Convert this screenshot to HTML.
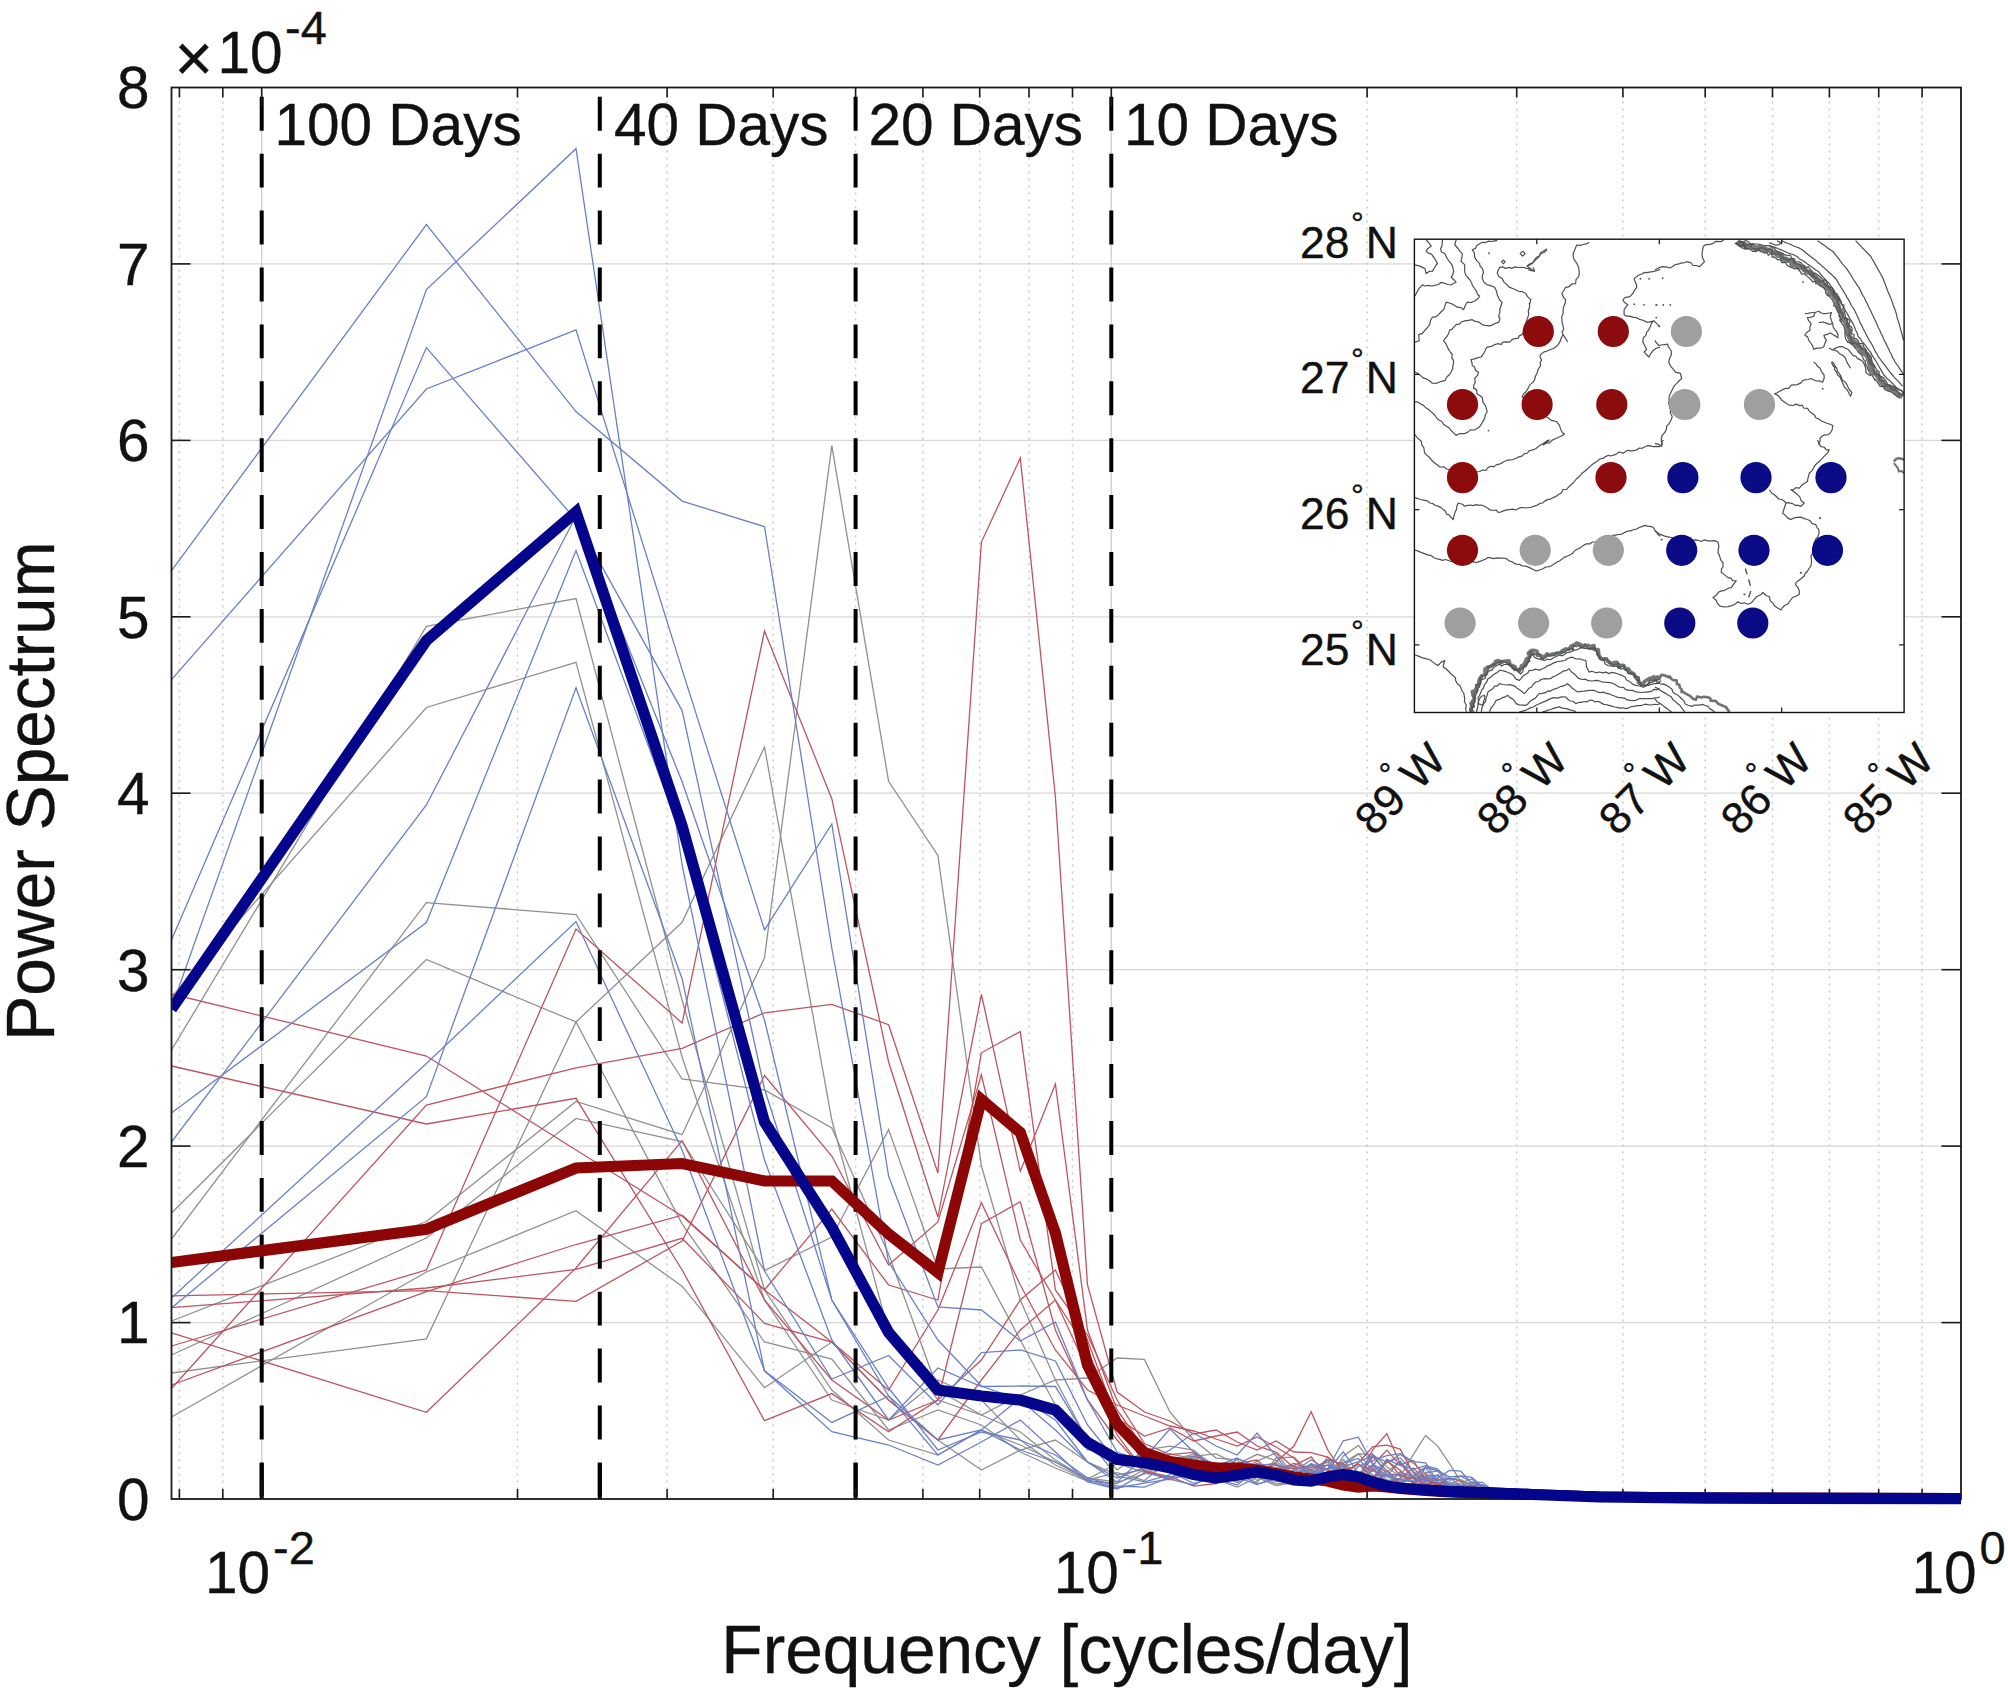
<!DOCTYPE html>
<html lang="en"><head><meta charset="utf-8"><title>Power Spectrum</title>
<style>html,body{margin:0;padding:0;background:#fff}body{width:2008px;height:1689px;overflow:hidden}svg{display:block}text{font-family:"Liberation Sans",Arial,Helvetica,sans-serif;fill:#111;stroke:#111;stroke-width:0.35px;stroke-linejoin:round}</style></head><body>
<svg width="2008" height="1689" viewBox="0 0 2008 1689">
<rect x="0" y="0" width="2008" height="1689" fill="#fff"/>
<g id="grid" fill="none">
<line x1="171.5" y1="1322.6" x2="1961.0" y2="1322.6" stroke="#d8d8d8" stroke-width="1.2"/>
<line x1="171.5" y1="1146.1" x2="1961.0" y2="1146.1" stroke="#d8d8d8" stroke-width="1.2"/>
<line x1="171.5" y1="969.7" x2="1961.0" y2="969.7" stroke="#d8d8d8" stroke-width="1.2"/>
<line x1="171.5" y1="793.2" x2="1961.0" y2="793.2" stroke="#d8d8d8" stroke-width="1.2"/>
<line x1="171.5" y1="616.8" x2="1961.0" y2="616.8" stroke="#d8d8d8" stroke-width="1.2"/>
<line x1="171.5" y1="440.4" x2="1961.0" y2="440.4" stroke="#d8d8d8" stroke-width="1.2"/>
<line x1="171.5" y1="263.9" x2="1961.0" y2="263.9" stroke="#d8d8d8" stroke-width="1.2"/>
<line x1="179.4" y1="87.5" x2="179.4" y2="1499.0" stroke="#c9c9c9" stroke-width="1.5" stroke-dasharray="2 5"/>
<line x1="222.8" y1="87.5" x2="222.8" y2="1499.0" stroke="#c9c9c9" stroke-width="1.5" stroke-dasharray="2 5"/>
<line x1="517.5" y1="87.5" x2="517.5" y2="1499.0" stroke="#c9c9c9" stroke-width="1.5" stroke-dasharray="2 5"/>
<line x1="667.1" y1="87.5" x2="667.1" y2="1499.0" stroke="#c9c9c9" stroke-width="1.5" stroke-dasharray="2 5"/>
<line x1="773.2" y1="87.5" x2="773.2" y2="1499.0" stroke="#c9c9c9" stroke-width="1.5" stroke-dasharray="2 5"/>
<line x1="855.6" y1="87.5" x2="855.6" y2="1499.0" stroke="#c9c9c9" stroke-width="1.5" stroke-dasharray="2 5"/>
<line x1="922.9" y1="87.5" x2="922.9" y2="1499.0" stroke="#c9c9c9" stroke-width="1.5" stroke-dasharray="2 5"/>
<line x1="979.7" y1="87.5" x2="979.7" y2="1499.0" stroke="#c9c9c9" stroke-width="1.5" stroke-dasharray="2 5"/>
<line x1="1029.0" y1="87.5" x2="1029.0" y2="1499.0" stroke="#c9c9c9" stroke-width="1.5" stroke-dasharray="2 5"/>
<line x1="1072.5" y1="87.5" x2="1072.5" y2="1499.0" stroke="#c9c9c9" stroke-width="1.5" stroke-dasharray="2 5"/>
<line x1="1367.1" y1="87.5" x2="1367.1" y2="1499.0" stroke="#c9c9c9" stroke-width="1.5" stroke-dasharray="2 5"/>
<line x1="1516.7" y1="87.5" x2="1516.7" y2="1499.0" stroke="#c9c9c9" stroke-width="1.5" stroke-dasharray="2 5"/>
<line x1="1622.9" y1="87.5" x2="1622.9" y2="1499.0" stroke="#c9c9c9" stroke-width="1.5" stroke-dasharray="2 5"/>
<line x1="1705.2" y1="87.5" x2="1705.2" y2="1499.0" stroke="#c9c9c9" stroke-width="1.5" stroke-dasharray="2 5"/>
<line x1="1772.5" y1="87.5" x2="1772.5" y2="1499.0" stroke="#c9c9c9" stroke-width="1.5" stroke-dasharray="2 5"/>
<line x1="1829.4" y1="87.5" x2="1829.4" y2="1499.0" stroke="#c9c9c9" stroke-width="1.5" stroke-dasharray="2 5"/>
<line x1="1878.7" y1="87.5" x2="1878.7" y2="1499.0" stroke="#c9c9c9" stroke-width="1.5" stroke-dasharray="2 5"/>
<line x1="1922.1" y1="87.5" x2="1922.1" y2="1499.0" stroke="#c9c9c9" stroke-width="1.5" stroke-dasharray="2 5"/>
<line x1="261.7" y1="87.5" x2="261.7" y2="1499.0" stroke="#d2d2d2" stroke-width="1.4"/>
<line x1="1111.3" y1="87.5" x2="1111.3" y2="1499.0" stroke="#d2d2d2" stroke-width="1.4"/>
</g>
<defs><clipPath id="ax"><rect x="171.0" y="81.5" width="1795.5" height="1423.5"/></clipPath><clipPath id="inset"><rect x="1414.4" y="239.2" width="489.7" height="473.3"/></clipPath></defs>
<g id="thin" clip-path="url(#ax)">
<polyline points="171.5,1050.0 426.4,626.3 576.0,598.6 682.1,1000.0 764.5,1290.0 831.8,1390.0 888.6,1440.0 937.9,1455.0 981.4,1430.0 1020.3,1445.0 1055.4,1462.0 1087.5,1478.0 1117.1,1482.2 1144.4,1474.0 1169.9,1459.2 1193.7,1456.1 1216.1,1453.9 1237.2,1464.0 1257.1,1454.3 1276.0,1460.6 1294.0,1477.3 1311.2,1472.1 1327.6,1482.4 1343.3,1456.0 1358.4,1445.4 1372.8,1464.0 1386.8,1471.9 1400.2,1461.3 1413.1,1476.1 1425.6,1483.2 1437.7,1486.6 1449.5,1486.1 1460.8,1482.8 1471.8,1479.1 1482.5,1488.5 1492.9,1488.2 1503.0,1492.9 1512.9,1496.7 1522.5,1498.1 1531.8,1498.3 1540.9,1498.3 1549.8,1498.3 1558.5,1498.3 1567.0,1498.3 1575.3,1498.3 1583.4,1498.3 1591.3,1498.3 1599.1,1498.3 1606.7,1498.3 1614.1,1498.3 1621.4,1498.3 1628.6,1498.3 1635.6,1498.3 1642.5,1498.3 1649.3,1498.3 1656.0,1498.3 1662.5,1498.3 1668.9,1498.3 1675.2,1498.3 1681.4,1498.3 1687.5,1498.3 1693.5,1498.3 1699.4,1498.3 1705.2,1498.3" fill="none" stroke="#909090" stroke-width="1.3" stroke-linejoin="miter" />
<polyline points="171.5,997.0 426.4,707.5 576.0,662.3 682.1,1057.0 764.5,1300.0 831.8,1400.0 888.6,1420.0 937.9,1380.0 981.4,1400.0 1020.3,1440.0 1055.4,1465.0 1087.5,1480.0 1117.1,1472.6 1144.4,1480.6 1169.9,1460.4 1193.7,1454.1 1216.1,1466.1 1237.2,1464.8 1257.1,1477.1 1276.0,1481.6 1294.0,1481.6 1311.2,1469.7 1327.6,1479.1 1343.3,1459.6 1358.4,1478.5 1372.8,1482.9 1386.8,1486.9 1400.2,1471.5 1413.1,1478.0 1425.6,1479.4 1437.7,1484.1 1449.5,1481.9 1460.8,1486.2 1471.8,1491.0 1482.5,1491.9 1492.9,1494.3 1503.0,1496.6 1512.9,1498.1 1522.5,1498.3 1531.8,1498.3 1540.9,1498.3 1549.8,1498.3 1558.5,1498.3 1567.0,1498.3 1575.3,1498.3 1583.4,1498.3 1591.3,1498.3 1599.1,1498.3 1606.7,1498.3 1614.1,1498.3 1621.4,1498.3 1628.6,1498.3 1635.6,1498.3 1642.5,1498.3 1649.3,1498.3 1656.0,1498.3 1662.5,1498.3 1668.9,1498.3 1675.2,1498.3 1681.4,1498.3 1687.5,1498.3 1693.5,1498.3 1699.4,1498.3 1705.2,1498.3" fill="none" stroke="#909090" stroke-width="1.3" stroke-linejoin="miter" />
<polyline points="171.5,1213.0 426.4,959.5 576.0,1022.0 682.1,1223.8 764.5,1342.0 831.8,1359.0 888.6,1430.0 937.9,1410.0 981.4,1425.0 1020.3,1452.0 1055.4,1468.0 1087.5,1481.0 1117.1,1483.5 1144.4,1469.9 1169.9,1478.7 1193.7,1464.7 1216.1,1463.0 1237.2,1469.8 1257.1,1464.6 1276.0,1464.4 1294.0,1479.7 1311.2,1471.4 1327.6,1465.2 1343.3,1466.2 1358.4,1453.9 1372.8,1454.4 1386.8,1466.8 1400.2,1476.9 1413.1,1454.9 1425.6,1435.5 1437.7,1446.1 1449.5,1463.7 1460.8,1481.4 1471.8,1484.9 1482.5,1490.7 1492.9,1492.2 1503.0,1495.6 1512.9,1497.7 1522.5,1498.3 1531.8,1498.3 1540.9,1498.3 1549.8,1498.3 1558.5,1498.3 1567.0,1498.3 1575.3,1498.3 1583.4,1498.3 1591.3,1498.3 1599.1,1498.3 1606.7,1498.3 1614.1,1498.3 1621.4,1498.3 1628.6,1498.3 1635.6,1498.3 1642.5,1498.3 1649.3,1498.3 1656.0,1498.3 1662.5,1498.3 1668.9,1498.3 1675.2,1498.3 1681.4,1498.3 1687.5,1498.3 1693.5,1498.3 1699.4,1498.3 1705.2,1498.3" fill="none" stroke="#909090" stroke-width="1.3" stroke-linejoin="miter" />
<polyline points="171.5,1239.0 426.4,902.6 576.0,914.5 682.1,1079.0 764.5,1090.0 831.8,1128.0 888.6,1254.0 937.9,1390.0 981.4,1415.0 1020.3,1432.0 1055.4,1460.0 1087.5,1479.0 1117.1,1463.6 1144.4,1472.4 1169.9,1468.7 1193.7,1466.8 1216.1,1479.5 1237.2,1487.1 1257.1,1477.5 1276.0,1485.5 1294.0,1482.7 1311.2,1467.6 1327.6,1462.5 1343.3,1479.9 1358.4,1487.2 1372.8,1487.1 1386.8,1471.1 1400.2,1485.2 1413.1,1487.6 1425.6,1491.0 1437.7,1492.5 1449.5,1488.4 1460.8,1492.0 1471.8,1492.0 1482.5,1490.7 1492.9,1492.2 1503.0,1495.3 1512.9,1497.6 1522.5,1498.3 1531.8,1498.3 1540.9,1498.3 1549.8,1498.3 1558.5,1498.3 1567.0,1498.3 1575.3,1498.3 1583.4,1498.3 1591.3,1498.3 1599.1,1498.3 1606.7,1498.3 1614.1,1498.3 1621.4,1498.3 1628.6,1498.3 1635.6,1498.3 1642.5,1498.3 1649.3,1498.3 1656.0,1498.3 1662.5,1498.3 1668.9,1498.3 1675.2,1498.3 1681.4,1498.3 1687.5,1498.3 1693.5,1498.3 1699.4,1498.3 1705.2,1498.3" fill="none" stroke="#909090" stroke-width="1.3" stroke-linejoin="miter" />
<polyline points="171.5,1321.0 426.4,1221.5 576.0,1101.5 682.1,1134.7 764.5,957.8 831.8,445.7 888.6,781.3 937.9,855.5 981.4,1166.0 1020.3,1300.0 1055.4,1380.0 1087.5,1440.0 1117.1,1470.0 1144.4,1450.2 1169.9,1446.2 1193.7,1450.2 1216.1,1469.2 1237.2,1473.2 1257.1,1461.1 1276.0,1452.9 1294.0,1475.8 1311.2,1480.8 1327.6,1456.9 1343.3,1474.9 1358.4,1464.0 1372.8,1471.3 1386.8,1462.9 1400.2,1454.5 1413.1,1463.1 1425.6,1473.4 1437.7,1480.2 1449.5,1478.4 1460.8,1479.9 1471.8,1485.5 1482.5,1488.7 1492.9,1491.2 1503.0,1494.9 1512.9,1497.4 1522.5,1498.3 1531.8,1498.3 1540.9,1498.3 1549.8,1498.3 1558.5,1498.3 1567.0,1498.3 1575.3,1498.3 1583.4,1498.3 1591.3,1498.3 1599.1,1498.3 1606.7,1498.3 1614.1,1498.3 1621.4,1498.3 1628.6,1498.3 1635.6,1498.3 1642.5,1498.3 1649.3,1498.3 1656.0,1498.3 1662.5,1498.3 1668.9,1498.3 1675.2,1498.3 1681.4,1498.3 1687.5,1498.3 1693.5,1498.3 1699.4,1498.3 1705.2,1498.3" fill="none" stroke="#909090" stroke-width="1.3" stroke-linejoin="miter" />
<polyline points="171.5,1355.0 426.4,1238.0 576.0,1118.4 682.1,1141.5 764.5,1270.6 831.8,1237.0 888.6,1129.6 937.9,1269.0 981.4,1267.0 1020.3,1340.0 1055.4,1405.0 1087.5,1450.0 1117.1,1453.7 1144.4,1470.8 1169.9,1464.4 1193.7,1456.8 1216.1,1472.9 1237.2,1465.9 1257.1,1475.8 1276.0,1483.8 1294.0,1482.2 1311.2,1469.9 1327.6,1481.9 1343.3,1472.6 1358.4,1477.9 1372.8,1484.5 1386.8,1480.3 1400.2,1481.0 1413.1,1480.6 1425.6,1472.5 1437.7,1471.1 1449.5,1484.1 1460.8,1479.6 1471.8,1484.9 1482.5,1485.7 1492.9,1489.4 1503.0,1493.9 1512.9,1497.1 1522.5,1498.3 1531.8,1498.3 1540.9,1498.3 1549.8,1498.3 1558.5,1498.3 1567.0,1498.3 1575.3,1498.3 1583.4,1498.3 1591.3,1498.3 1599.1,1498.3 1606.7,1498.3 1614.1,1498.3 1621.4,1498.3 1628.6,1498.3 1635.6,1498.3 1642.5,1498.3 1649.3,1498.3 1656.0,1498.3 1662.5,1498.3 1668.9,1498.3 1675.2,1498.3 1681.4,1498.3 1687.5,1498.3 1693.5,1498.3 1699.4,1498.3 1705.2,1498.3" fill="none" stroke="#909090" stroke-width="1.3" stroke-linejoin="miter" />
<polyline points="171.5,1373.0 426.4,1338.9 576.0,1022.0 682.1,922.3 764.5,747.0 831.8,1120.0 888.6,1332.0 937.9,1400.0 981.4,1415.0 1020.3,1395.0 1055.4,1380.0 1087.5,1378.0 1117.1,1358.0 1144.4,1359.4 1169.9,1412.0 1193.7,1440.0 1216.1,1458.1 1237.2,1459.9 1257.1,1480.7 1276.0,1467.4 1294.0,1465.6 1311.2,1482.3 1327.6,1471.6 1343.3,1467.6 1358.4,1480.7 1372.8,1466.6 1386.8,1476.6 1400.2,1479.5 1413.1,1477.6 1425.6,1477.8 1437.7,1478.6 1449.5,1486.7 1460.8,1488.5 1471.8,1493.0 1482.5,1494.5 1492.9,1494.9 1503.0,1497.1 1512.9,1498.3 1522.5,1498.3 1531.8,1498.3 1540.9,1498.3 1549.8,1498.3 1558.5,1498.3 1567.0,1498.3 1575.3,1498.3 1583.4,1498.3 1591.3,1498.3 1599.1,1498.3 1606.7,1498.3 1614.1,1498.3 1621.4,1498.3 1628.6,1498.3 1635.6,1498.3 1642.5,1498.3 1649.3,1498.3 1656.0,1498.3 1662.5,1498.3 1668.9,1498.3 1675.2,1498.3 1681.4,1498.3 1687.5,1498.3 1693.5,1498.3 1699.4,1498.3 1705.2,1498.3" fill="none" stroke="#909090" stroke-width="1.3" stroke-linejoin="miter" />
<polyline points="171.5,1417.0 426.4,1272.0 576.0,1210.7 682.1,1286.2 764.5,1387.7 831.8,1342.0 888.6,1400.0 937.9,1440.0 981.4,1470.0 1020.3,1450.0 1055.4,1440.0 1087.5,1462.0 1117.1,1474.9 1144.4,1469.5 1169.9,1453.8 1193.7,1458.9 1216.1,1466.6 1237.2,1474.8 1257.1,1482.6 1276.0,1457.8 1294.0,1457.1 1311.2,1472.9 1327.6,1468.3 1343.3,1462.7 1358.4,1453.6 1372.8,1470.7 1386.8,1476.3 1400.2,1482.7 1413.1,1475.9 1425.6,1466.8 1437.7,1470.5 1449.5,1484.2 1460.8,1487.1 1471.8,1492.4 1482.5,1494.4 1492.9,1494.1 1503.0,1496.4 1512.9,1498.0 1522.5,1498.3 1531.8,1498.3 1540.9,1498.3 1549.8,1498.3 1558.5,1498.3 1567.0,1498.3 1575.3,1498.3 1583.4,1498.3 1591.3,1498.3 1599.1,1498.3 1606.7,1498.3 1614.1,1498.3 1621.4,1498.3 1628.6,1498.3 1635.6,1498.3 1642.5,1498.3 1649.3,1498.3 1656.0,1498.3 1662.5,1498.3 1668.9,1498.3 1675.2,1498.3 1681.4,1498.3 1687.5,1498.3 1693.5,1498.3 1699.4,1498.3 1705.2,1498.3" fill="none" stroke="#909090" stroke-width="1.3" stroke-linejoin="miter" />
<polyline points="171.5,994.0 426.4,1056.0 576.0,1150.0 682.1,1216.0 764.5,1290.0 831.8,1342.0 888.6,1390.0 937.9,1310.0 981.4,1202.6 1020.3,1285.0 1055.4,1350.0 1087.5,1390.0 1117.1,1405.0 1144.4,1416.0 1169.9,1426.0 1193.7,1431.0 1216.1,1439.0 1237.2,1446.0 1257.1,1437.0 1276.0,1447.0 1294.0,1458.0 1311.2,1477.1 1327.6,1480.2 1343.3,1463.9 1358.4,1476.9 1372.8,1456.8 1386.8,1470.6 1400.2,1483.1 1413.1,1478.1 1425.6,1484.2 1437.7,1489.7 1449.5,1488.5 1460.8,1486.5 1471.8,1490.5 1482.5,1486.7 1492.9,1491.9 1503.0,1493.8 1512.9,1497.0 1522.5,1498.2 1531.8,1498.3 1540.9,1498.3 1549.8,1498.3 1558.5,1498.3 1567.0,1498.3 1575.3,1498.3 1583.4,1498.3 1591.3,1498.3 1599.1,1498.3 1606.7,1498.3 1614.1,1498.3 1621.4,1498.3 1628.6,1498.3 1635.6,1498.3 1642.5,1498.3 1649.3,1498.3 1656.0,1498.3 1662.5,1498.3 1668.9,1498.3 1675.2,1498.3 1681.4,1498.3 1687.5,1498.3 1693.5,1498.3 1699.4,1498.3 1705.2,1498.3" fill="none" stroke="#bd5560" stroke-width="1.3" stroke-linejoin="miter" />
<polyline points="171.5,1066.0 426.4,1124.0 576.0,1098.3 682.1,1270.0 764.5,1420.7 831.8,1393.6 888.6,1431.7 937.9,1400.0 981.4,1223.8 1020.3,1201.8 1055.4,1330.0 1087.5,1400.0 1117.1,1440.0 1144.4,1471.1 1169.9,1476.6 1193.7,1486.1 1216.1,1483.5 1237.2,1468.5 1257.1,1464.7 1276.0,1470.1 1294.0,1463.4 1311.2,1470.2 1327.6,1459.8 1343.3,1464.0 1358.4,1478.6 1372.8,1449.6 1386.8,1433.7 1400.2,1463.7 1413.1,1478.3 1425.6,1474.6 1437.7,1484.5 1449.5,1487.4 1460.8,1490.3 1471.8,1492.0 1482.5,1494.1 1492.9,1492.7 1503.0,1494.6 1512.9,1497.3 1522.5,1498.3 1531.8,1498.3 1540.9,1498.3 1549.8,1498.3 1558.5,1498.3 1567.0,1498.3 1575.3,1498.3 1583.4,1498.3 1591.3,1498.3 1599.1,1498.3 1606.7,1498.3 1614.1,1498.3 1621.4,1498.3 1628.6,1498.3 1635.6,1498.3 1642.5,1498.3 1649.3,1498.3 1656.0,1498.3 1662.5,1498.3 1668.9,1498.3 1675.2,1498.3 1681.4,1498.3 1687.5,1498.3 1693.5,1498.3 1699.4,1498.3 1705.2,1498.3" fill="none" stroke="#bd5560" stroke-width="1.3" stroke-linejoin="miter" />
<polyline points="171.5,1388.5 426.4,1105.0 576.0,1067.8 682.1,1048.4 764.5,1012.8 831.8,1004.3 888.6,1024.7 937.9,1173.0 981.4,542.1 1020.3,458.0 1055.4,797.0 1087.5,1285.0 1117.1,1392.0 1144.4,1412.0 1169.9,1421.0 1193.7,1434.0 1216.1,1430.0 1237.2,1442.0 1257.1,1450.0 1276.0,1441.0 1294.0,1452.0 1311.2,1452.7 1327.6,1457.2 1343.3,1466.8 1358.4,1476.7 1372.8,1465.2 1386.8,1450.1 1400.2,1465.1 1413.1,1460.2 1425.6,1479.9 1437.7,1478.9 1449.5,1485.8 1460.8,1485.3 1471.8,1485.4 1482.5,1485.2 1492.9,1490.1 1503.0,1492.7 1512.9,1496.6 1522.5,1498.1 1531.8,1498.3 1540.9,1498.3 1549.8,1498.3 1558.5,1498.3 1567.0,1498.3 1575.3,1498.3 1583.4,1498.3 1591.3,1498.3 1599.1,1498.3 1606.7,1498.3 1614.1,1498.3 1621.4,1498.3 1628.6,1498.3 1635.6,1498.3 1642.5,1498.3 1649.3,1498.3 1656.0,1498.3 1662.5,1498.3 1668.9,1498.3 1675.2,1498.3 1681.4,1498.3 1687.5,1498.3 1693.5,1498.3 1699.4,1498.3 1705.2,1498.3" fill="none" stroke="#bd5560" stroke-width="1.3" stroke-linejoin="miter" />
<polyline points="171.5,1332.8 426.4,1412.3 576.0,1268.0 682.1,1140.6 764.5,1300.0 831.8,1380.0 888.6,1420.0 937.9,1400.0 981.4,1360.0 1020.3,1300.0 1055.4,1270.0 1087.5,1340.0 1117.1,1420.0 1144.4,1464.3 1169.9,1462.1 1193.7,1468.0 1216.1,1480.0 1237.2,1469.8 1257.1,1471.2 1276.0,1465.1 1294.0,1468.9 1311.2,1467.2 1327.6,1465.1 1343.3,1475.8 1358.4,1485.4 1372.8,1468.4 1386.8,1482.2 1400.2,1478.3 1413.1,1468.1 1425.6,1479.7 1437.7,1486.4 1449.5,1488.1 1460.8,1491.7 1471.8,1488.5 1482.5,1492.5 1492.9,1495.7 1503.0,1496.2 1512.9,1498.0 1522.5,1498.3 1531.8,1498.3 1540.9,1498.3 1549.8,1498.3 1558.5,1498.3 1567.0,1498.3 1575.3,1498.3 1583.4,1498.3 1591.3,1498.3 1599.1,1498.3 1606.7,1498.3 1614.1,1498.3 1621.4,1498.3 1628.6,1498.3 1635.6,1498.3 1642.5,1498.3 1649.3,1498.3 1656.0,1498.3 1662.5,1498.3 1668.9,1498.3 1675.2,1498.3 1681.4,1498.3 1687.5,1498.3 1693.5,1498.3 1699.4,1498.3 1705.2,1498.3" fill="none" stroke="#bd5560" stroke-width="1.3" stroke-linejoin="miter" />
<polyline points="171.5,1346.0 426.4,1270.0 576.0,929.0 682.1,1023.0 764.5,631.1 831.8,798.7 888.6,1062.0 937.9,1217.0 981.4,994.4 1020.3,1171.3 1055.4,1084.0 1087.5,1330.0 1117.1,1410.0 1144.4,1448.5 1169.9,1472.6 1193.7,1465.7 1216.1,1477.9 1237.2,1471.4 1257.1,1474.0 1276.0,1462.1 1294.0,1446.1 1311.2,1411.7 1327.6,1449.6 1343.3,1473.4 1358.4,1462.7 1372.8,1446.5 1386.8,1445.2 1400.2,1449.1 1413.1,1472.7 1425.6,1481.5 1437.7,1483.9 1449.5,1487.0 1460.8,1490.1 1471.8,1490.7 1482.5,1491.5 1492.9,1493.6 1503.0,1494.0 1512.9,1497.1 1522.5,1498.3 1531.8,1498.3 1540.9,1498.3 1549.8,1498.3 1558.5,1498.3 1567.0,1498.3 1575.3,1498.3 1583.4,1498.3 1591.3,1498.3 1599.1,1498.3 1606.7,1498.3 1614.1,1498.3 1621.4,1498.3 1628.6,1498.3 1635.6,1498.3 1642.5,1498.3 1649.3,1498.3 1656.0,1498.3 1662.5,1498.3 1668.9,1498.3 1675.2,1498.3 1681.4,1498.3 1687.5,1498.3 1693.5,1498.3 1699.4,1498.3 1705.2,1498.3" fill="none" stroke="#bd5560" stroke-width="1.3" stroke-linejoin="miter" />
<polyline points="171.5,1295.8 426.4,1290.7 576.0,1301.3 682.1,1241.0 764.5,1075.5 831.8,1156.0 888.6,1265.0 937.9,1222.0 981.4,1074.9 1020.3,1240.0 1055.4,1300.0 1087.5,1350.0 1117.1,1418.0 1144.4,1436.0 1169.9,1428.0 1193.7,1441.0 1216.1,1436.0 1237.2,1432.0 1257.1,1446.0 1276.0,1452.0 1294.0,1467.8 1311.2,1465.3 1327.6,1470.0 1343.3,1472.9 1358.4,1464.0 1372.8,1477.8 1386.8,1461.1 1400.2,1470.3 1413.1,1484.0 1425.6,1477.1 1437.7,1485.6 1449.5,1477.7 1460.8,1481.5 1471.8,1489.7 1482.5,1487.4 1492.9,1492.7 1503.0,1494.0 1512.9,1497.1 1522.5,1498.3 1531.8,1498.3 1540.9,1498.3 1549.8,1498.3 1558.5,1498.3 1567.0,1498.3 1575.3,1498.3 1583.4,1498.3 1591.3,1498.3 1599.1,1498.3 1606.7,1498.3 1614.1,1498.3 1621.4,1498.3 1628.6,1498.3 1635.6,1498.3 1642.5,1498.3 1649.3,1498.3 1656.0,1498.3 1662.5,1498.3 1668.9,1498.3 1675.2,1498.3 1681.4,1498.3 1687.5,1498.3 1693.5,1498.3 1699.4,1498.3 1705.2,1498.3" fill="none" stroke="#bd5560" stroke-width="1.3" stroke-linejoin="miter" />
<polyline points="171.5,1307.7 426.4,1288.0 576.0,1269.4 682.1,1238.3 764.5,1323.4 831.8,1342.0 888.6,1400.0 937.9,1440.0 981.4,1380.0 1020.3,1330.0 1055.4,1300.0 1087.5,1370.0 1117.1,1435.0 1144.4,1471.3 1169.9,1479.7 1193.7,1472.5 1216.1,1466.9 1237.2,1463.4 1257.1,1460.0 1276.0,1477.9 1294.0,1483.1 1311.2,1479.0 1327.6,1474.4 1343.3,1483.2 1358.4,1473.7 1372.8,1481.2 1386.8,1474.5 1400.2,1474.4 1413.1,1482.4 1425.6,1484.3 1437.7,1482.1 1449.5,1484.6 1460.8,1489.6 1471.8,1486.5 1482.5,1491.6 1492.9,1494.5 1503.0,1496.9 1512.9,1498.2 1522.5,1498.3 1531.8,1498.3 1540.9,1498.3 1549.8,1498.3 1558.5,1498.3 1567.0,1498.3 1575.3,1498.3 1583.4,1498.3 1591.3,1498.3 1599.1,1498.3 1606.7,1498.3 1614.1,1498.3 1621.4,1498.3 1628.6,1498.3 1635.6,1498.3 1642.5,1498.3 1649.3,1498.3 1656.0,1498.3 1662.5,1498.3 1668.9,1498.3 1675.2,1498.3 1681.4,1498.3 1687.5,1498.3 1693.5,1498.3 1699.4,1498.3 1705.2,1498.3" fill="none" stroke="#bd5560" stroke-width="1.3" stroke-linejoin="miter" />
<polyline points="171.5,1385.0 426.4,1291.6 576.0,1244.5 682.1,1215.2 764.5,1290.0 831.8,1209.0 888.6,1285.0 937.9,1300.0 981.4,1052.8 1020.3,1031.6 1055.4,1290.0 1087.5,1335.0 1117.1,1400.0 1144.4,1443.5 1169.9,1454.6 1193.7,1452.4 1216.1,1471.9 1237.2,1480.9 1257.1,1468.7 1276.0,1474.5 1294.0,1465.5 1311.2,1456.8 1327.6,1477.5 1343.3,1477.3 1358.4,1482.4 1372.8,1480.4 1386.8,1459.4 1400.2,1475.9 1413.1,1478.4 1425.6,1485.0 1437.7,1488.9 1449.5,1491.6 1460.8,1493.9 1471.8,1487.1 1482.5,1487.9 1492.9,1492.5 1503.0,1494.1 1512.9,1497.1 1522.5,1498.3 1531.8,1498.3 1540.9,1498.3 1549.8,1498.3 1558.5,1498.3 1567.0,1498.3 1575.3,1498.3 1583.4,1498.3 1591.3,1498.3 1599.1,1498.3 1606.7,1498.3 1614.1,1498.3 1621.4,1498.3 1628.6,1498.3 1635.6,1498.3 1642.5,1498.3 1649.3,1498.3 1656.0,1498.3 1662.5,1498.3 1668.9,1498.3 1675.2,1498.3 1681.4,1498.3 1687.5,1498.3 1693.5,1498.3 1699.4,1498.3 1705.2,1498.3" fill="none" stroke="#bd5560" stroke-width="1.3" stroke-linejoin="miter" />
<polyline points="171.5,570.7 426.4,224.5 576.0,411.6 682.1,501.1 764.5,526.7 831.8,948.0 888.6,1262.0 937.9,1340.0 981.4,1386.0 1020.3,1400.0 1055.4,1430.0 1087.5,1462.0 1117.1,1478.0 1144.4,1467.3 1169.9,1472.0 1193.7,1483.3 1216.1,1478.0 1237.2,1458.7 1257.1,1466.1 1276.0,1463.4 1294.0,1476.2 1311.2,1472.6 1327.6,1473.3 1343.3,1480.6 1358.4,1480.2 1372.8,1484.4 1386.8,1459.3 1400.2,1465.4 1413.1,1469.3 1425.6,1465.6 1437.7,1469.0 1449.5,1480.3 1460.8,1476.1 1471.8,1482.2 1482.5,1482.3 1492.9,1490.4 1503.0,1494.3 1512.9,1497.2 1522.5,1498.3 1531.8,1498.3 1540.9,1498.3 1549.8,1498.3 1558.5,1498.3 1567.0,1498.3 1575.3,1498.3 1583.4,1498.3 1591.3,1498.3 1599.1,1498.3 1606.7,1498.3 1614.1,1498.3 1621.4,1498.3 1628.6,1498.3 1635.6,1498.3 1642.5,1498.3 1649.3,1498.3 1656.0,1498.3 1662.5,1498.3 1668.9,1498.3 1675.2,1498.3 1681.4,1498.3 1687.5,1498.3 1693.5,1498.3 1699.4,1498.3 1705.2,1498.3" fill="none" stroke="#6a80c6" stroke-width="1.3" stroke-linejoin="miter" />
<polyline points="171.5,1008.0 426.4,289.6 576.0,148.7 682.1,865.0 764.5,1271.0 831.8,1379.0 888.6,1355.5 937.9,1405.0 981.4,1352.6 1020.3,1350.0 1055.4,1361.0 1087.5,1425.0 1117.1,1462.0 1144.4,1458.0 1169.9,1429.0 1193.7,1452.0 1216.1,1466.0 1237.2,1458.0 1257.1,1469.0 1276.0,1472.0 1294.0,1474.9 1311.2,1463.7 1327.6,1469.0 1343.3,1440.8 1358.4,1437.2 1372.8,1463.7 1386.8,1475.7 1400.2,1461.2 1413.1,1476.8 1425.6,1467.6 1437.7,1483.2 1449.5,1484.7 1460.8,1485.2 1471.8,1482.4 1482.5,1485.2 1492.9,1491.7 1503.0,1494.3 1512.9,1497.2 1522.5,1498.3 1531.8,1498.3 1540.9,1498.3 1549.8,1498.3 1558.5,1498.3 1567.0,1498.3 1575.3,1498.3 1583.4,1498.3 1591.3,1498.3 1599.1,1498.3 1606.7,1498.3 1614.1,1498.3 1621.4,1498.3 1628.6,1498.3 1635.6,1498.3 1642.5,1498.3 1649.3,1498.3 1656.0,1498.3 1662.5,1498.3 1668.9,1498.3 1675.2,1498.3 1681.4,1498.3 1687.5,1498.3 1693.5,1498.3 1699.4,1498.3 1705.2,1498.3" fill="none" stroke="#6a80c6" stroke-width="1.3" stroke-linejoin="miter" />
<polyline points="171.5,940.0 426.4,347.6 576.0,520.0 682.1,710.6 764.5,1089.0 831.8,1300.0 888.6,1396.0 937.9,1440.0 981.4,1430.0 1020.3,1398.0 1055.4,1420.0 1087.5,1462.0 1117.1,1482.0 1144.4,1456.7 1169.9,1462.3 1193.7,1464.0 1216.1,1467.3 1237.2,1477.2 1257.1,1484.6 1276.0,1477.6 1294.0,1471.5 1311.2,1459.7 1327.6,1469.9 1343.3,1451.9 1358.4,1473.3 1372.8,1464.6 1386.8,1480.0 1400.2,1482.1 1413.1,1485.9 1425.6,1467.6 1437.7,1470.9 1449.5,1476.8 1460.8,1476.0 1471.8,1477.4 1482.5,1486.6 1492.9,1488.5 1503.0,1493.8 1512.9,1497.0 1522.5,1498.3 1531.8,1498.3 1540.9,1498.3 1549.8,1498.3 1558.5,1498.3 1567.0,1498.3 1575.3,1498.3 1583.4,1498.3 1591.3,1498.3 1599.1,1498.3 1606.7,1498.3 1614.1,1498.3 1621.4,1498.3 1628.6,1498.3 1635.6,1498.3 1642.5,1498.3 1649.3,1498.3 1656.0,1498.3 1662.5,1498.3 1668.9,1498.3 1675.2,1498.3 1681.4,1498.3 1687.5,1498.3 1693.5,1498.3 1699.4,1498.3 1705.2,1498.3" fill="none" stroke="#6a80c6" stroke-width="1.3" stroke-linejoin="miter" />
<polyline points="171.5,679.6 426.4,389.0 576.0,329.9 682.1,669.6 764.5,929.9 831.8,824.0 888.6,1176.0 937.9,1307.0 981.4,1310.0 1020.3,1341.0 1055.4,1322.0 1087.5,1400.0 1117.1,1452.0 1144.4,1462.0 1169.9,1450.0 1193.7,1433.0 1216.1,1446.0 1237.2,1455.0 1257.1,1433.0 1276.0,1456.0 1294.0,1479.0 1311.2,1463.9 1327.6,1478.8 1343.3,1463.1 1358.4,1458.5 1372.8,1475.4 1386.8,1475.4 1400.2,1479.5 1413.1,1481.8 1425.6,1476.3 1437.7,1475.5 1449.5,1485.6 1460.8,1486.9 1471.8,1487.4 1482.5,1490.0 1492.9,1494.6 1503.0,1496.3 1512.9,1498.0 1522.5,1498.3 1531.8,1498.3 1540.9,1498.3 1549.8,1498.3 1558.5,1498.3 1567.0,1498.3 1575.3,1498.3 1583.4,1498.3 1591.3,1498.3 1599.1,1498.3 1606.7,1498.3 1614.1,1498.3 1621.4,1498.3 1628.6,1498.3 1635.6,1498.3 1642.5,1498.3 1649.3,1498.3 1656.0,1498.3 1662.5,1498.3 1668.9,1498.3 1675.2,1498.3 1681.4,1498.3 1687.5,1498.3 1693.5,1498.3 1699.4,1498.3 1705.2,1498.3" fill="none" stroke="#6a80c6" stroke-width="1.3" stroke-linejoin="miter" />
<polyline points="171.5,1113.0 426.4,922.6 576.0,550.5 682.1,837.0 764.5,1160.0 831.8,1340.0 888.6,1420.0 937.9,1368.0 981.4,1386.5 1020.3,1386.0 1055.4,1386.5 1087.5,1440.0 1117.1,1476.0 1144.4,1481.8 1169.9,1474.8 1193.7,1456.3 1216.1,1464.3 1237.2,1474.4 1257.1,1463.3 1276.0,1471.8 1294.0,1465.4 1311.2,1474.9 1327.6,1460.2 1343.3,1477.8 1358.4,1477.8 1372.8,1454.4 1386.8,1474.8 1400.2,1474.9 1413.1,1481.7 1425.6,1480.7 1437.7,1477.7 1449.5,1470.4 1460.8,1471.2 1471.8,1483.4 1482.5,1484.9 1492.9,1490.2 1503.0,1495.0 1512.9,1497.5 1522.5,1498.3 1531.8,1498.3 1540.9,1498.3 1549.8,1498.3 1558.5,1498.3 1567.0,1498.3 1575.3,1498.3 1583.4,1498.3 1591.3,1498.3 1599.1,1498.3 1606.7,1498.3 1614.1,1498.3 1621.4,1498.3 1628.6,1498.3 1635.6,1498.3 1642.5,1498.3 1649.3,1498.3 1656.0,1498.3 1662.5,1498.3 1668.9,1498.3 1675.2,1498.3 1681.4,1498.3 1687.5,1498.3 1693.5,1498.3 1699.4,1498.3 1705.2,1498.3" fill="none" stroke="#6a80c6" stroke-width="1.3" stroke-linejoin="miter" />
<polyline points="171.5,1142.0 426.4,805.0 576.0,516.0 682.1,781.8 764.5,1020.0 831.8,1300.0 888.6,1388.0 937.9,1450.0 981.4,1432.0 1020.3,1440.0 1055.4,1455.0 1087.5,1478.0 1117.1,1486.0 1144.4,1487.2 1169.9,1477.4 1193.7,1471.8 1216.1,1479.4 1237.2,1484.9 1257.1,1470.2 1276.0,1469.5 1294.0,1480.9 1311.2,1475.0 1327.6,1469.0 1343.3,1466.5 1358.4,1461.7 1372.8,1455.8 1386.8,1462.0 1400.2,1457.9 1413.1,1471.1 1425.6,1482.1 1437.7,1474.6 1449.5,1484.9 1460.8,1490.9 1471.8,1493.9 1482.5,1492.6 1492.9,1491.5 1503.0,1495.2 1512.9,1497.5 1522.5,1498.3 1531.8,1498.3 1540.9,1498.3 1549.8,1498.3 1558.5,1498.3 1567.0,1498.3 1575.3,1498.3 1583.4,1498.3 1591.3,1498.3 1599.1,1498.3 1606.7,1498.3 1614.1,1498.3 1621.4,1498.3 1628.6,1498.3 1635.6,1498.3 1642.5,1498.3 1649.3,1498.3 1656.0,1498.3 1662.5,1498.3 1668.9,1498.3 1675.2,1498.3 1681.4,1498.3 1687.5,1498.3 1693.5,1498.3 1699.4,1498.3 1705.2,1498.3" fill="none" stroke="#6a80c6" stroke-width="1.3" stroke-linejoin="miter" />
<polyline points="171.5,1298.0 426.4,1063.5 576.0,921.6 682.1,1150.0 764.5,1370.8 831.8,1422.4 888.6,1396.2 937.9,1455.0 981.4,1430.0 1020.3,1450.0 1055.4,1462.0 1087.5,1480.0 1117.1,1488.0 1144.4,1483.2 1169.9,1479.1 1193.7,1485.0 1216.1,1473.8 1237.2,1482.6 1257.1,1473.9 1276.0,1479.0 1294.0,1473.8 1311.2,1469.1 1327.6,1483.9 1343.3,1468.6 1358.4,1483.4 1372.8,1469.5 1386.8,1483.5 1400.2,1472.6 1413.1,1476.6 1425.6,1479.1 1437.7,1480.5 1449.5,1478.0 1460.8,1485.9 1471.8,1485.2 1482.5,1492.7 1492.9,1495.1 1503.0,1496.1 1512.9,1497.9 1522.5,1498.3 1531.8,1498.3 1540.9,1498.3 1549.8,1498.3 1558.5,1498.3 1567.0,1498.3 1575.3,1498.3 1583.4,1498.3 1591.3,1498.3 1599.1,1498.3 1606.7,1498.3 1614.1,1498.3 1621.4,1498.3 1628.6,1498.3 1635.6,1498.3 1642.5,1498.3 1649.3,1498.3 1656.0,1498.3 1662.5,1498.3 1668.9,1498.3 1675.2,1498.3 1681.4,1498.3 1687.5,1498.3 1693.5,1498.3 1699.4,1498.3 1705.2,1498.3" fill="none" stroke="#6a80c6" stroke-width="1.3" stroke-linejoin="miter" />
<polyline points="171.5,1308.0 426.4,1096.7 576.0,687.9 682.1,978.7 764.5,1370.8 831.8,1431.7 888.6,1445.0 937.9,1465.0 981.4,1442.0 1020.3,1420.0 1055.4,1452.0 1087.5,1482.0 1117.1,1489.0 1144.4,1473.0 1169.9,1477.5 1193.7,1466.7 1216.1,1468.4 1237.2,1472.0 1257.1,1484.1 1276.0,1479.1 1294.0,1469.6 1311.2,1478.8 1327.6,1478.4 1343.3,1482.2 1358.4,1466.4 1372.8,1460.7 1386.8,1455.6 1400.2,1453.7 1413.1,1461.6 1425.6,1462.8 1437.7,1482.0 1449.5,1485.6 1460.8,1489.3 1471.8,1491.6 1482.5,1492.3 1492.9,1493.2 1503.0,1494.1 1512.9,1497.1 1522.5,1498.3 1531.8,1498.3 1540.9,1498.3 1549.8,1498.3 1558.5,1498.3 1567.0,1498.3 1575.3,1498.3 1583.4,1498.3 1591.3,1498.3 1599.1,1498.3 1606.7,1498.3 1614.1,1498.3 1621.4,1498.3 1628.6,1498.3 1635.6,1498.3 1642.5,1498.3 1649.3,1498.3 1656.0,1498.3 1662.5,1498.3 1668.9,1498.3 1675.2,1498.3 1681.4,1498.3 1687.5,1498.3 1693.5,1498.3 1699.4,1498.3 1705.2,1498.3" fill="none" stroke="#6a80c6" stroke-width="1.3" stroke-linejoin="miter" />
</g>
<g id="dashes">
<line x1="261.7" y1="96.8" x2="261.7" y2="1519.0" stroke="#000" stroke-width="4" stroke-dasharray="33.9 23"/>
<line x1="261.7" y1="1463" x2="261.7" y2="1499.0" stroke="#000" stroke-width="4"/>
<line x1="599.8" y1="96.8" x2="599.8" y2="1519.0" stroke="#000" stroke-width="4" stroke-dasharray="33.9 23"/>
<line x1="599.8" y1="1463" x2="599.8" y2="1499.0" stroke="#000" stroke-width="4"/>
<line x1="855.6" y1="96.8" x2="855.6" y2="1519.0" stroke="#000" stroke-width="4" stroke-dasharray="33.9 23"/>
<line x1="855.6" y1="1463" x2="855.6" y2="1499.0" stroke="#000" stroke-width="4"/>
<line x1="1111.3" y1="96.8" x2="1111.3" y2="1519.0" stroke="#000" stroke-width="4" stroke-dasharray="33.9 23"/>
<line x1="1111.3" y1="1463" x2="1111.3" y2="1499.0" stroke="#000" stroke-width="4"/>
</g>
<g id="thick" clip-path="url(#ax)">
<polyline points="171.5,1262.5 426.4,1229.3 576.0,1168.0 682.1,1163.5 764.5,1181.0 831.8,1181.0 888.6,1234.0 937.9,1272.5 981.4,1099.5 1020.3,1132.5 1055.4,1233.0 1087.5,1365.0 1117.1,1424.0 1144.4,1452.5 1169.9,1461.5 1193.7,1465.0 1216.1,1468.0 1237.2,1468.0 1257.1,1470.0 1276.0,1473.5 1294.0,1477.0 1311.2,1479.0 1327.6,1481.0 1343.3,1485.0 1358.4,1487.0 1372.8,1486.0 1386.8,1487.0 1400.2,1488.5 1425.6,1490.5 1449.5,1492.0 1482.5,1493.0 1531.8,1495.0 1599.1,1497.0 1705.2,1498.0 1961.0,1498.5" fill="none" stroke="#8c0606" stroke-width="11.2" stroke-linejoin="miter" />
<polyline points="171.5,1009.0 426.4,640.5 576.0,512.0 682.1,826.0 764.5,1122.0 831.8,1227.0 888.6,1332.5 937.9,1390.0 981.4,1396.0 1020.3,1400.0 1055.4,1410.0 1087.5,1442.4 1117.1,1459.3 1144.4,1462.7 1169.9,1467.8 1193.7,1474.6 1216.1,1478.0 1237.2,1475.0 1257.1,1472.0 1276.0,1475.0 1294.0,1480.0 1311.2,1481.0 1327.6,1477.0 1343.3,1474.5 1358.4,1477.0 1372.8,1482.0 1386.8,1486.0 1400.2,1488.0 1425.6,1490.0 1449.5,1491.5 1482.5,1492.5 1531.8,1494.5 1599.1,1497.0 1705.2,1498.2 1961.0,1498.6" fill="none" stroke="#05058c" stroke-width="11.2" stroke-linejoin="miter" />
</g>
<rect x="150" y="1499.8" width="1850" height="30" fill="#fff"/>
<g id="axes" stroke="#1a1a1a" fill="none">
<rect x="171.5" y="87.5" width="1789.5" height="1411.5" stroke-width="1.8"/>
<line x1="171.5" y1="1322.6" x2="190.5" y2="1322.6" stroke-width="1.6"/>
<line x1="1961.0" y1="1322.6" x2="1941.5" y2="1322.6" stroke-width="1.6"/>
<line x1="171.5" y1="1146.1" x2="190.5" y2="1146.1" stroke-width="1.6"/>
<line x1="1961.0" y1="1146.1" x2="1941.5" y2="1146.1" stroke-width="1.6"/>
<line x1="171.5" y1="969.7" x2="190.5" y2="969.7" stroke-width="1.6"/>
<line x1="1961.0" y1="969.7" x2="1941.5" y2="969.7" stroke-width="1.6"/>
<line x1="171.5" y1="793.2" x2="190.5" y2="793.2" stroke-width="1.6"/>
<line x1="1961.0" y1="793.2" x2="1941.5" y2="793.2" stroke-width="1.6"/>
<line x1="171.5" y1="616.8" x2="190.5" y2="616.8" stroke-width="1.6"/>
<line x1="1961.0" y1="616.8" x2="1941.5" y2="616.8" stroke-width="1.6"/>
<line x1="171.5" y1="440.4" x2="190.5" y2="440.4" stroke-width="1.6"/>
<line x1="1961.0" y1="440.4" x2="1941.5" y2="440.4" stroke-width="1.6"/>
<line x1="171.5" y1="263.9" x2="190.5" y2="263.9" stroke-width="1.6"/>
<line x1="1961.0" y1="263.9" x2="1941.5" y2="263.9" stroke-width="1.6"/>
<line x1="179.4" y1="87.5" x2="179.4" y2="97.5" stroke-width="1.6"/>
<line x1="179.4" y1="1499.0" x2="179.4" y2="1489.0" stroke-width="1.6"/>
<line x1="222.8" y1="87.5" x2="222.8" y2="97.5" stroke-width="1.6"/>
<line x1="222.8" y1="1499.0" x2="222.8" y2="1489.0" stroke-width="1.6"/>
<line x1="517.5" y1="87.5" x2="517.5" y2="97.5" stroke-width="1.6"/>
<line x1="517.5" y1="1499.0" x2="517.5" y2="1489.0" stroke-width="1.6"/>
<line x1="667.1" y1="87.5" x2="667.1" y2="97.5" stroke-width="1.6"/>
<line x1="667.1" y1="1499.0" x2="667.1" y2="1489.0" stroke-width="1.6"/>
<line x1="773.2" y1="87.5" x2="773.2" y2="97.5" stroke-width="1.6"/>
<line x1="773.2" y1="1499.0" x2="773.2" y2="1489.0" stroke-width="1.6"/>
<line x1="855.6" y1="87.5" x2="855.6" y2="97.5" stroke-width="1.6"/>
<line x1="855.6" y1="1499.0" x2="855.6" y2="1489.0" stroke-width="1.6"/>
<line x1="922.9" y1="87.5" x2="922.9" y2="97.5" stroke-width="1.6"/>
<line x1="922.9" y1="1499.0" x2="922.9" y2="1489.0" stroke-width="1.6"/>
<line x1="979.7" y1="87.5" x2="979.7" y2="97.5" stroke-width="1.6"/>
<line x1="979.7" y1="1499.0" x2="979.7" y2="1489.0" stroke-width="1.6"/>
<line x1="1029.0" y1="87.5" x2="1029.0" y2="97.5" stroke-width="1.6"/>
<line x1="1029.0" y1="1499.0" x2="1029.0" y2="1489.0" stroke-width="1.6"/>
<line x1="1072.5" y1="87.5" x2="1072.5" y2="97.5" stroke-width="1.6"/>
<line x1="1072.5" y1="1499.0" x2="1072.5" y2="1489.0" stroke-width="1.6"/>
<line x1="1367.1" y1="87.5" x2="1367.1" y2="97.5" stroke-width="1.6"/>
<line x1="1367.1" y1="1499.0" x2="1367.1" y2="1489.0" stroke-width="1.6"/>
<line x1="1516.7" y1="87.5" x2="1516.7" y2="97.5" stroke-width="1.6"/>
<line x1="1516.7" y1="1499.0" x2="1516.7" y2="1489.0" stroke-width="1.6"/>
<line x1="1622.9" y1="87.5" x2="1622.9" y2="97.5" stroke-width="1.6"/>
<line x1="1622.9" y1="1499.0" x2="1622.9" y2="1489.0" stroke-width="1.6"/>
<line x1="1705.2" y1="87.5" x2="1705.2" y2="97.5" stroke-width="1.6"/>
<line x1="1705.2" y1="1499.0" x2="1705.2" y2="1489.0" stroke-width="1.6"/>
<line x1="1772.5" y1="87.5" x2="1772.5" y2="97.5" stroke-width="1.6"/>
<line x1="1772.5" y1="1499.0" x2="1772.5" y2="1489.0" stroke-width="1.6"/>
<line x1="1829.4" y1="87.5" x2="1829.4" y2="97.5" stroke-width="1.6"/>
<line x1="1829.4" y1="1499.0" x2="1829.4" y2="1489.0" stroke-width="1.6"/>
<line x1="1878.7" y1="87.5" x2="1878.7" y2="97.5" stroke-width="1.6"/>
<line x1="1878.7" y1="1499.0" x2="1878.7" y2="1489.0" stroke-width="1.6"/>
<line x1="1922.1" y1="87.5" x2="1922.1" y2="97.5" stroke-width="1.6"/>
<line x1="1922.1" y1="1499.0" x2="1922.1" y2="1489.0" stroke-width="1.6"/>
<line x1="261.7" y1="87.5" x2="261.7" y2="106.5" stroke-width="1.6"/>
<line x1="261.7" y1="1499.0" x2="261.7" y2="1480.0" stroke-width="1.6"/>
<line x1="1111.3" y1="87.5" x2="1111.3" y2="106.5" stroke-width="1.6"/>
<line x1="1111.3" y1="1499.0" x2="1111.3" y2="1480.0" stroke-width="1.6"/>
</g>
<g clip-path="url(#ax)">
<polyline points="1425.6,1490.0 1449.5,1491.5 1482.5,1492.5 1531.8,1494.5 1599.1,1497.0 1705.2,1498.2 1961.0,1498.6" fill="none" stroke="#05058c" stroke-width="11.2" stroke-linejoin="miter" />
</g>
<g id="labels">
<text x="149.5" y="1519.8" font-size="58.5" text-anchor="end">0</text>
<text x="149.5" y="1343.4" font-size="58.5" text-anchor="end">1</text>
<text x="149.5" y="1166.9" font-size="58.5" text-anchor="end">2</text>
<text x="149.5" y="990.5" font-size="58.5" text-anchor="end">3</text>
<text x="149.5" y="814.0" font-size="58.5" text-anchor="end">4</text>
<text x="149.5" y="637.6" font-size="58.5" text-anchor="end">5</text>
<text x="149.5" y="461.2" font-size="58.5" text-anchor="end">6</text>
<text x="149.5" y="284.7" font-size="58.5" text-anchor="end">7</text>
<text x="149.5" y="108.3" font-size="58.5" text-anchor="end">8</text>
<text x="174.5" y="80.5" font-size="66" stroke="none" fill="#1a1a1a">×</text>
<text x="217.5" y="73" font-size="58.5">10</text>
<text x="285" y="44" font-size="47">-4</text>
<text x="205.0" y="1592.6" font-size="58.5">10</text>
<text x="273.0" y="1564" font-size="47">-2</text>
<text x="1053.8" y="1592.6" font-size="58.5">10</text>
<text x="1121.6" y="1564" font-size="47">-1</text>
<text x="1911.5" y="1592.6" font-size="58.5">10</text>
<text x="1979.5" y="1564" font-size="47">0</text>
<text x="1067" y="1672.5" font-size="67.6" text-anchor="middle">Frequency [cycles/day]</text>
<text transform="translate(53.8,791) rotate(-90)" font-size="67.6" text-anchor="middle">Power Spectrum</text>
<text x="274.5" y="145" font-size="58.5" fill="#000">100 Days</text>
<text x="614.0" y="145" font-size="58.5" fill="#000">40 Days</text>
<text x="868.5" y="145" font-size="58.5" fill="#000">20 Days</text>
<text x="1124.0" y="145" font-size="58.5" fill="#000">10 Days</text>
</g>
<g id="map">
<rect x="1414.4" y="239.2" width="489.7" height="473.3" fill="#fff"/>
<g clip-path="url(#inset)" fill="none" stroke="#4c5050" stroke-width="1.2" stroke-linejoin="round">
<polyline points="1426.2,240.0 1429.3,243.4 1431.2,246.2 1427.8,248.4 1426.2,251.2 1428.3,253.1 1431.5,254.1 1433.1,256.5 1434.9,258.7 1437.4,263.6 1435.7,265.5 1434.4,268.0 1432.4,271.1 1429.2,271.4 1426.2,273.6 1424.9,268.6 1420.0,266.1 1415.0,264.9" stroke-width="1.2" stroke="#4c5050"/>
<polyline points="1442.4,240.0 1442.4,242.0 1441.7,246.6 1440.5,248.7 1441.5,252.0 1444.8,253.5 1446.1,256.2 1447.5,259.0 1449.2,261.3 1451.1,263.6 1452.6,266.4 1453.6,271.1 1452.8,274.7 1451.1,277.3 1454.5,280.3 1456.1,282.3 1451.1,284.8 1448.1,284.5 1443.8,283.1 1441.1,282.3 1438.6,284.5 1433.5,285.6 1431.2,286.0 1428.5,285.4 1424.6,286.0 1422.5,284.8 1419.4,288.1 1417.5,291.0 1415.0,296.0" stroke-width="1.2" stroke="#4c5050"/>
<polyline points="1456.1,240.0 1454.8,245.0 1456.7,247.0 1458.0,248.5 1460.4,251.8 1462.3,253.7 1461.9,257.8 1461.0,261.1 1464.8,264.9 1464.6,267.7 1464.8,272.4 1465.9,275.4 1467.9,277.5 1469.8,279.8 1471.8,283.3 1472.4,285.6 1474.7,288.5 1476.7,291.9 1477.6,294.4 1479.7,296.0 1478.0,298.5 1474.7,301.0 1471.2,302.5 1467.3,302.2 1465.3,305.5 1463.5,309.7 1461.0,307.6 1457.3,307.2 1454.7,305.6 1451.1,303.5 1446.1,302.2 1444.6,306.9 1443.6,309.7 1441.4,311.5 1438.6,314.7 1435.3,316.9 1432.4,317.2 1430.3,320.7 1430.0,323.6 1428.7,325.9 1427.5,327.5 1424.4,330.8 1422.5,333.4 1418.7,334.6 1419.0,338.4 1419.3,340.8 1415.0,342.1" stroke-width="1.2" stroke="#4c5050"/>
<polyline points="1497.2,240.6 1494.2,240.8 1491.8,241.5 1488.3,241.2 1485.2,242.6 1482.5,242.3 1479.7,243.7 1476.8,245.5 1475.6,248.3 1472.3,249.9 1474.3,252.7 1474.7,257.4 1476.7,260.6 1479.7,263.6 1480.0,266.0 1482.3,268.4 1483.5,272.4 1482.6,274.5 1482.2,278.6 1484.2,282.5 1487.2,284.8 1490.7,285.6 1494.7,287.3 1496.8,291.8 1497.2,294.8 1498.3,297.1 1499.8,300.3 1502.1,302.2 1500.8,306.5 1499.6,309.7 1500.0,312.0 1498.6,316.4 1500.0,318.4 1499.0,322.2 1496.7,322.8 1492.5,324.9 1489.7,325.9 1485.2,325.3 1482.2,324.6 1478.8,322.1 1474.6,321.2 1472.3,319.7 1468.5,320.3 1464.8,320.9 1461.0,322.0 1460.0,323.8 1456.1,324.6 1453.8,327.2 1452.1,329.1 1449.7,330.1 1448.6,333.4 1447.4,335.8 1444.3,339.4 1443.6,340.8 1445.8,343.4 1447.4,347.1 1449.0,350.2 1450.6,352.5 1452.3,354.5 1451.7,358.1 1453.3,360.0 1453.6,363.2 1452.6,366.9 1452.8,368.6 1451.1,372.0 1449.7,374.5 1447.0,376.8 1444.9,380.7 1441.5,381.3 1437.7,382.8 1436.1,383.4 1432.4,383.2 1429.5,380.8 1426.3,378.9 1423.7,378.2 1420.6,375.6 1417.5,373.2 1415.0,372.0" stroke-width="1.2" stroke="#4c5050"/>
<polyline points="1547.0,249.9 1543.7,252.8 1540.7,253.7 1538.9,256.2 1536.6,257.2 1534.5,259.9 1532.7,262.7 1528.9,264.4 1527.0,266.1 1529.9,268.2 1532.7,270.2 1534.5,271.1 1529.5,268.6 1526.4,268.4 1524.3,267.5 1520.0,267.4 1518.8,267.5 1514.9,266.9 1511.7,268.5 1509.6,267.4 1505.3,268.4 1503.1,266.8 1499.6,267.4 1497.2,272.4 1498.6,276.3 1502.1,278.6 1504.4,282.6 1507.1,284.8 1509.1,287.1 1513.3,288.8 1515.8,289.8 1519.1,291.5 1522.3,291.7 1525.8,293.5 1527.5,296.6 1530.8,299.7 1529.5,304.7 1529.7,306.5 1528.2,311.2 1528.7,313.2 1528.3,315.9 1527.6,317.9 1526.4,321.0 1526.1,323.9 1525.0,327.5 1523.8,329.9 1523.1,332.9 1522.1,334.6 1519.5,335.6 1518.0,338.1 1513.8,338.8 1512.1,339.6 1509.6,342.1 1506.0,341.8 1502.8,342.2 1501.4,344.3 1497.6,343.7 1494.7,344.6 1491.7,346.4 1487.2,347.1 1485.5,349.3 1485.1,351.0 1482.9,354.7 1481.0,357.0 1477.2,357.9 1473.7,359.1 1471.0,359.5 1472.0,363.0 1472.3,365.7 1474.5,366.8 1475.4,370.4 1478.5,372.0 1477.6,375.4 1474.7,378.2 1475.3,382.3 1473.8,385.0 1473.5,388.1 1476.5,389.6 1477.0,393.8 1479.7,395.6 1482.3,397.6 1482.9,402.2 1484.9,404.8 1485.9,406.8 1487.2,411.8 1485.4,414.7 1484.7,418.0 1483.6,420.4 1481.0,424.7 1479.7,426.7 1477.8,428.1 1474.4,430.0 1470.3,429.8 1468.5,431.7 1465.0,433.4 1463.1,433.6 1459.8,433.5 1456.1,435.4 1453.7,432.9 1451.1,430.5 1448.9,427.6 1445.5,425.8 1443.6,424.2 1441.7,421.5 1439.1,420.0 1437.3,418.7 1434.9,415.5 1432.3,412.7 1431.4,412.1 1429.1,409.8 1426.2,408.1 1423.5,405.4 1420.9,404.2 1417.5,401.8 1415.0,401.8" stroke-width="1.2" stroke="#4c5050"/>
<polyline points="1589.3,242.5 1586.1,243.9 1583.1,244.5 1580.1,245.4 1576.8,245.0 1575.3,248.2 1574.3,250.9 1573.1,253.7 1573.4,257.4 1574.3,259.9 1576.9,263.4 1578.1,266.1 1578.9,268.9 1579.3,273.6 1578.7,276.6 1576.0,279.7 1575.6,283.6 1571.8,284.0 1568.9,286.8 1565.6,287.3 1564.0,290.2 1561.9,293.5 1563.5,297.4 1565.6,299.7 1565.2,303.1 1563.5,307.3 1563.1,309.7 1563.1,313.8 1561.8,316.5 1561.9,319.7 1562.1,322.3 1563.0,325.8 1563.7,329.3 1561.9,331.8 1563.1,334.6 1561.0,338.5 1560.5,340.6 1558.2,344.6 1556.6,346.3 1553.9,348.2 1550.7,349.5 1546.6,351.3 1544.0,351.9 1540.7,354.5 1539.9,356.4 1541.6,360.1 1540.1,362.6 1540.7,365.7 1538.3,369.0 1537.0,373.2 1535.5,376.0 1534.5,380.0 1533.3,381.9 1529.8,384.9 1528.3,388.1 1525.7,392.0 1523.8,393.4 1522.1,396.9 1524.9,398.3 1526.4,401.4 1529.2,402.8 1530.6,404.9 1531.5,408.0 1534.5,409.3 1538.1,411.9 1539.2,413.4 1541.7,413.6 1545.9,416.6 1548.2,418.0 1551.3,420.3 1553.7,420.8 1556.9,421.8 1559.5,425.4 1560.6,429.2 1562.4,432.5 1564.4,434.2 1560.9,436.2 1557.5,437.8 1555.7,438.5 1551.9,440.4 1549.5,443.0 1546.2,442.6 1543.2,445.0 1546.3,443.3 1549.3,440.0 1546.7,440.9 1544.0,442.9 1541.9,444.2 1538.9,446.1 1535.7,448.7 1532.7,449.9 1529.0,450.8 1527.6,453.0 1524.2,453.9 1521.7,456.2 1518.0,457.2 1516.1,458.2 1513.0,459.5 1509.4,460.2 1507.3,460.2 1503.8,461.7 1501.9,462.9 1499.3,464.2 1496.2,464.9 1493.8,466.8 1491.5,466.2 1488.3,467.4 1485.9,470.3 1482.6,470.0 1479.6,471.5 1476.5,472.0 1473.7,471.4 1469.8,472.4 1465.7,472.6 1463.1,473.2 1460.4,472.1 1458.2,472.2 1455.8,472.0 1451.8,471.2 1449.0,469.4 1446.5,469.0 1443.9,466.8 1439.8,467.0 1437.2,464.8 1434.9,463.2 1432.8,461.3 1431.6,460.0 1428.2,456.2 1427.0,455.4 1424.9,453.3 1424.3,451.2 1423.9,447.8 1421.7,444.7 1421.5,441.6 1419.9,440.0 1417.4,438.0 1416.0,436.0 1414.0,434.0" stroke-width="1.2" stroke="#4c5050"/>
<polyline points="1563.1,334.6 1565.6,338.3 1567.5,342.1" stroke-width="1.2" stroke="#4c5050"/>
<polyline points="1660.0,269.2 1657.6,270.5 1653.8,271.3 1650.9,271.8 1646.7,272.7 1644.1,272.4 1641.9,274.0 1639.0,275.0 1637.4,276.0 1634.1,278.6 1634.8,280.8 1636.7,285.2 1636.6,287.3 1633.9,291.3 1632.9,293.5 1630.6,295.9 1628.8,296.9 1625.0,297.6 1622.9,299.7 1624.4,302.4 1627.9,304.7 1625.2,308.2 1624.1,309.7 1624.1,314.7 1626.1,316.2 1629.2,316.1 1632.9,317.2 1637.1,317.9 1640.3,319.7 1642.3,320.0 1646.9,322.1 1649.0,322.2 1654.0,320.9 1651.5,323.1 1650.3,326.5 1648.6,330.2 1646.6,332.1 1645.9,335.4 1643.3,337.8 1642.8,342.1 1644.3,344.8 1646.6,349.5 1644.1,352.0 1646.6,354.8 1649.0,357.0 1650.4,354.1 1652.8,350.8 1656.2,348.3 1660.0,347.1" stroke-width="1.2" stroke="#4c5050"/>
<polyline points="1654.0,320.9 1657.8,324.6 1660.0,327.1" stroke-width="1.2" stroke="#4c5050"/>
<polyline points="1488.3,253.1 1489.8,253.4" stroke-width="1.6" stroke="#4c5050"/>
<polyline points="1528.8,303.5 1530.3,303.8" stroke-width="1.6" stroke="#4c5050"/>
<polyline points="1639.6,278.6 1641.1,278.9" stroke-width="1.6" stroke="#4c5050"/>
<polyline points="1648.3,278.6 1649.8,278.9" stroke-width="1.6" stroke="#4c5050"/>
<polyline points="1633.4,304.1 1634.9,304.5" stroke-width="1.6" stroke="#4c5050"/>
<polyline points="1643.3,304.7 1644.8,305.1" stroke-width="1.6" stroke="#4c5050"/>
<polyline points="1655.8,304.7 1657.3,305.1" stroke-width="1.6" stroke="#4c5050"/>
<polyline points="1487.7,430.5 1489.2,430.8" stroke-width="1.6" stroke="#4c5050"/>
<polyline points="1522.7,251.2 1525.2,253.7 1522.7,256.2 1520.2,253.7 1522.7,251.2" stroke-width="1.2" stroke="#4c5050"/>
<polyline points="1503.4,259.9 1505.2,261.8 1503.4,263.6 1501.5,261.8 1503.4,259.9" stroke-width="1.2" stroke="#4c5050"/>
<polyline points="1527.0,266.1 1532.0,263.6 1535.7,259.9 1539.5,256.2 1540.4,253.1 1543.2,251.2 1547.0,248.7" stroke-width="1.2" stroke="#4c5050"/>
<polyline points="1528.3,269.9 1530.6,270.4 1534.5,271.1 1533.3,267.4" stroke-width="1.2" stroke="#4c5050"/>
<polyline points="1655.0,269.9 1658.9,267.7 1662.6,266.7 1665.9,266.9 1670.2,268.0 1672.6,266.6 1675.1,264.7 1677.9,264.2 1681.5,262.9 1683.6,263.0 1686.7,261.7 1690.8,262.6 1693.1,265.5 1696.6,265.5 1699.4,266.7 1702.2,263.9 1704.5,261.7 1702.4,257.5 1702.0,254.0 1702.4,251.0 1703.3,246.4 1706.0,244.6 1708.5,244.6 1712.1,243.9 1716.0,241.3 1720.7,241.7 1723.6,240.1" stroke-width="1.2" stroke="#4c5050"/>
<polyline points="1737.5,241.3 1738.9,243.7 1742.2,244.4 1745.3,244.9 1748.4,246.6 1750.2,246.4 1752.1,245.5 1755.0,248.3 1759.5,247.7 1759.9,248.3 1765.3,249.0 1765.2,250.8 1769.3,250.2 1770.6,250.9 1775.5,253.2 1777.0,254.0 1778.3,255.4 1781.5,255.3 1782.3,259.0 1786.5,259.2 1788.3,260.4 1792.1,260.9 1791.9,264.1 1796.2,265.1 1798.1,267.0 1800.8,267.0 1803.4,268.0 1804.0,269.3 1807.4,271.8 1811.0,272.9 1811.8,273.7 1813.9,276.6 1816.2,278.1 1816.2,279.6 1819.1,280.4 1820.3,283.4 1823.9,284.5 1824.4,284.9 1826.4,287.8 1830.2,289.8 1829.4,293.1 1833.5,295.0 1834.9,298.0 1835.3,298.5 1837.1,300.7 1837.0,303.4 1838.4,306.9 1838.1,307.8 1839.3,310.1 1841.7,313.7 1841.5,315.9 1842.8,319.7 1845.1,320.1 1845.9,323.2 1847.5,326.6 1848.0,329.0 1847.4,331.0 1847.8,333.2 1850.4,338.7 1850.6,340.4 1854.1,341.9 1855.5,343.1 1857.1,345.6 1860.2,347.5 1860.7,349.3 1860.7,350.5 1863.2,352.8 1866.0,354.5 1868.2,356.7 1868.3,359.4 1870.0,360.7 1869.4,362.9 1870.5,366.0 1870.8,368.2 1873.4,372.1 1875.5,373.4 1877.0,375.0 1879.1,378.0 1881.0,381.0 1883.4,384.4 1885.6,386.2 1886.6,386.2 1889.9,388.7 1893.1,389.0 1896.4,393.2 1898.3,394.4 1898.9,395.0 1902.6,396.3" stroke-width="5.4" stroke="#787b7b"/>
<polyline points="1738.3,240.8 1740.4,241.5 1744.7,242.2 1742.5,245.3 1746.4,245.5 1748.3,244.7 1751.0,245.9 1751.5,248.6 1754.7,248.9 1758.7,249.2 1759.2,248.6 1761.2,247.3 1766.9,250.0 1768.8,249.1 1770.0,249.7 1772.2,250.6 1772.6,253.6 1778.4,253.5 1778.5,253.6 1780.9,255.0 1782.0,257.2 1786.3,259.3 1788.6,260.9 1789.1,259.9 1791.8,258.9 1794.9,262.4 1793.6,262.9 1796.8,263.9 1799.9,264.6 1802.0,267.9 1804.5,266.3 1804.0,269.4 1805.7,271.0 1808.1,271.3 1808.1,271.5 1811.6,276.3 1813.4,274.6 1814.8,278.3 1815.3,278.0 1817.2,277.9 1819.3,281.9 1823.3,280.8 1824.7,284.0 1826.7,286.2 1828.8,287.1 1829.6,289.5 1832.5,291.2 1833.0,291.1 1832.7,294.7 1833.5,294.7 1836.1,298.0 1838.0,300.0 1837.9,302.9 1839.5,306.5 1838.7,306.8 1840.9,311.0 1839.4,311.1 1842.4,313.2 1843.3,317.5 1845.1,319.0 1847.3,319.0 1847.0,322.6 1846.8,323.9 1847.3,325.2 1848.8,328.5 1851.1,330.5 1849.8,332.3 1848.4,335.5 1851.4,337.4 1851.3,339.9 1851.8,343.4 1853.3,342.5 1856.2,343.5 1860.0,347.0 1859.1,345.8 1861.5,348.8 1865.0,349.3 1865.6,351.2 1867.5,355.1 1868.6,358.0 1869.1,358.9 1869.3,362.1 1872.8,365.1 1870.6,363.6 1873.8,366.3 1873.5,369.2 1874.2,371.6 1874.1,373.9 1875.4,373.2 1880.3,376.7 1879.0,379.6 1881.8,380.5 1884.0,381.0 1885.4,384.7 1885.3,385.4 1890.6,385.6 1890.7,388.1 1893.5,389.9 1894.5,388.7 1896.9,391.1 1899.9,394.7 1899.9,393.8 1903.4,395.8" stroke-width="2.0" stroke="#5c5f5f"/>
<polyline points="1734.7,243.4 1738.4,244.3 1739.4,246.6 1743.7,245.0 1745.0,249.1 1747.4,248.5 1751.0,249.8 1752.5,251.3 1756.4,251.4 1759.4,249.2 1759.8,251.1 1764.6,253.0 1766.5,252.3 1768.3,255.3 1771.6,253.1 1772.1,257.1 1774.5,256.9 1777.8,260.0 1780.3,259.2 1781.8,262.7 1785.5,262.4 1787.1,265.2 1788.8,266.4 1791.3,267.4 1795.3,268.9 1797.1,267.8 1801.0,272.5 1801.3,273.9 1804.6,273.9 1805.4,274.8 1808.6,277.4 1811.0,279.7 1812.6,281.9 1816.5,281.4 1815.5,283.7 1817.9,283.9 1821.1,286.6 1823.5,287.4 1826.2,291.1 1825.3,292.2 1827.7,295.8 1828.8,295.7 1832.1,299.6 1832.5,300.5 1834.5,304.1 1833.5,305.7 1836.8,307.5 1836.6,309.2 1839.2,314.2 1838.9,315.8 1841.4,319.5 1839.5,319.9 1842.2,323.9 1843.7,326.0 1844.1,327.1 1845.2,331.0 1844.9,333.4 1845.2,336.9 1845.7,339.0 1847.8,342.4 1849.0,342.5 1853.2,345.4 1854.0,346.5 1855.7,348.5 1857.9,351.3 1858.2,352.1 1862.1,355.5 1863.0,357.7 1863.4,359.4 1865.5,361.5 1865.2,363.6 1867.4,367.8 1867.6,369.0 1868.7,371.0 1870.6,374.2 1872.4,375.6 1874.8,380.2 1875.2,379.1 1878.2,383.1 1880.2,386.4 1883.8,386.3 1884.4,388.9 1887.1,390.7 1887.9,390.9 1891.4,392.1 1894.3,394.4 1895.9,395.6 1899.8,398.3" stroke-width="1.2" stroke="#4c5050"/>
<polyline points="1740.6,239.1 1742.2,238.6 1745.2,240.2 1748.8,241.7 1750.2,244.4 1753.3,244.1 1754.8,244.0 1757.4,244.0 1761.6,244.8 1764.4,245.7 1767.5,245.6 1769.7,245.8 1772.3,248.0 1774.0,247.7 1776.6,251.1 1778.9,251.5 1782.6,253.6 1785.1,254.8 1785.1,255.2 1790.6,255.4 1791.4,258.1 1794.9,259.1 1794.5,261.7 1799.3,261.8 1801.2,263.1 1802.5,264.4 1806.3,267.7 1808.3,266.6 1810.4,269.5 1811.7,272.6 1813.6,273.9 1815.1,273.0 1819.6,276.3 1821.4,277.8 1823.9,280.3 1824.7,279.7 1826.9,282.2 1827.4,284.4 1830.0,287.8 1831.5,287.0 1834.8,291.7 1833.8,293.1 1837.0,293.8 1838.4,296.2 1839.9,299.1 1841.5,302.3 1841.3,304.0 1844.2,305.3 1842.7,308.8 1844.7,311.4 1844.7,312.9 1845.6,317.6 1849.1,319.9 1850.3,320.9 1848.4,325.1 1851.1,326.7 1852.2,328.4 1851.6,333.7 1854.1,334.7 1853.6,338.1 1856.6,338.8 1859.0,341.9 1858.6,343.6 1863.0,343.7 1863.8,347.0 1866.4,350.4 1866.6,351.6 1868.5,353.2 1868.8,354.1 1871.4,357.2 1871.1,360.1 1872.1,362.5 1873.0,363.3 1875.8,367.7 1876.5,369.9 1879.1,371.5 1879.2,375.7 1883.6,377.6 1884.1,378.7 1886.2,381.2 1887.4,383.9 1889.2,385.2 1893.0,386.4 1894.6,386.5 1898.7,389.9 1901.6,390.4 1903.5,394.0 1905.7,394.0" stroke-width="1.2" stroke="#4c5050"/>
<polyline points="1769.3,245.2 1771.8,246.3 1774.9,247.3 1777.8,248.5 1780.7,249.6 1783.4,250.8 1786.0,252.0 1788.9,253.3 1792.0,254.3 1794.7,255.3 1797.3,256.7 1799.2,258.7 1802.1,260.2 1804.6,261.7 1806.7,263.4 1809.1,265.0 1811.8,267.0 1813.9,268.4 1816.3,270.2 1818.8,271.8 1820.6,274.2 1822.7,276.7 1824.7,278.7 1826.8,281.2 1829.1,283.3 1830.8,286.1 1832.8,288.3 1834.0,290.8 1835.4,293.5 1836.9,296.1 1838.6,298.3 1839.9,301.3 1841.2,303.4 1842.9,306.1 1844.5,308.4 1845.6,311.2 1847.3,313.5 1848.6,316.4 1850.0,318.7 1851.5,321.1 1853.1,323.9 1854.4,326.8 1855.6,330.1 1857.1,333.1 1858.2,336.6 1860.5,339.0 1862.2,341.9 1864.5,344.1 1866.3,346.7 1868.3,349.3 1870.3,351.9 1872.0,355.1 1873.6,357.7 1875.7,360.7 1877.2,363.3 1878.7,366.0 1880.4,368.9 1882.0,371.6 1883.6,374.7 1885.6,376.6 1887.6,379.1 1890.2,381.1 1892.0,383.0 1894.1,385.2 1896.3,387.4 1899.0,389.3 1901.4,390.7 1903.9,392.5" stroke-width="1.2" stroke="#4c5050"/>
<polyline points="1782.0,240.7 1784.5,242.1 1787.4,243.2 1790.3,244.2 1792.7,245.5 1795.7,246.8 1798.3,247.6 1801.0,249.0 1803.5,250.7 1805.8,252.8 1808.3,254.7 1810.5,256.5 1812.9,258.3 1815.5,260.2 1817.7,262.4 1820.1,264.2 1822.1,266.2 1824.5,268.1 1826.6,270.1 1828.8,272.2 1831.0,274.0 1833.2,276.2 1835.3,278.2 1837.2,280.8 1838.9,283.9 1840.4,286.3 1842.1,289.2 1844.0,292.0 1845.5,294.7 1846.9,297.4 1848.4,299.6 1850.0,302.4 1851.1,305.0 1852.9,307.6 1854.3,309.8 1855.6,312.5 1856.9,315.2 1858.2,318.0 1859.3,320.8 1860.5,323.4 1862.0,326.1 1863.3,329.0 1864.8,331.7 1866.2,334.5 1867.8,337.4 1869.2,340.3 1870.9,342.9 1872.5,345.5 1873.9,348.5 1875.3,351.4 1876.9,354.0 1878.5,356.9 1880.5,359.5 1882.2,362.1 1884.2,364.4 1886.3,367.1 1888.1,369.6 1889.9,372.1 1892.0,374.5 1894.0,376.8 1896.3,379.3 1898.3,381.4 1900.6,383.8 1902.6,386.1" stroke-width="1.2" stroke="#4c5050"/>
<polyline points="1817.5,240.7 1820.1,242.5 1822.7,244.2 1825.3,246.1 1827.7,248.0 1830.0,249.6 1832.8,251.5 1834.8,253.9 1836.8,256.4 1838.7,258.7 1840.2,260.9 1842.2,263.6 1844.0,265.7 1846.2,268.1 1848.0,270.6 1849.6,273.2 1851.3,275.5 1852.7,278.2 1854.2,280.6 1855.9,283.2 1857.6,285.9 1859.3,288.2 1860.7,290.9 1861.9,293.4 1863.1,295.8 1864.7,298.3 1865.6,300.9 1867.2,303.5 1868.2,306.0 1869.6,308.8 1870.9,311.2 1872.0,313.8 1873.4,316.5 1874.6,319.3 1876.0,322.0 1877.4,324.9 1878.3,327.7 1879.8,330.2 1880.9,333.2 1882.5,335.9 1883.4,338.5 1884.8,341.3 1886.3,344.1 1887.4,346.7 1888.8,349.1 1889.8,351.8 1891.4,354.3 1892.3,357.1 1893.9,359.3 1895.0,362.0 1896.8,364.4 1898.5,366.7 1900.0,369.1 1901.7,371.7 1903.3,374.0" stroke-width="1.2" stroke="#4c5050"/>
<polyline points="1855.6,240.7 1857.9,243.1 1860.0,245.3 1862.2,247.7 1864.5,249.9 1866.4,252.0 1868.8,254.5 1870.9,256.6 1872.2,259.0 1873.8,261.7 1875.2,264.4 1876.8,266.9 1877.9,269.4 1879.6,272.0 1880.7,274.2 1882.3,276.9 1883.5,279.7 1884.5,282.3 1885.5,284.9 1886.5,287.7 1887.6,290.7 1888.8,293.4 1889.9,296.0 1891.2,299.1 1892.2,301.9 1893.2,305.0 1894.3,307.7 1895.4,310.9 1896.3,313.7 1896.9,316.7 1897.8,319.7 1898.7,322.6 1899.7,325.5 1900.3,328.6 1901.3,331.5 1902.1,334.6 1902.7,337.4 1903.6,340.4" stroke-width="1.2" stroke="#4c5050"/>
<polyline points="1736.3,242.6 1739.8,245.0 1741.3,247.7 1744.7,248.7 1747.7,249.0 1745.1,247.4 1743.9,243.9 1741.6,242.6 1737.5,241.3" stroke-width="1.2" stroke="#4c5050"/>
<polyline points="1769.3,242.6 1772.9,244.0 1775.6,245.2 1779.2,244.6 1780.7,242.6 1776.9,240.7" stroke-width="1.2" stroke="#4c5050"/>
<polyline points="1804.8,313.7 1808.0,313.4 1812.2,312.5 1815.0,312.5 1813.7,316.3 1810.5,317.4 1807.4,317.5 1808.4,320.4 1811.2,323.9 1809.9,326.8 1809.9,330.2 1806.6,332.5 1804.8,335.3 1807.7,336.9 1808.7,340.4 1811.1,343.5 1812.7,345.8 1813.7,349.3 1816.6,348.1 1820.4,348.2 1823.9,346.7 1824.6,343.7 1826.4,340.4 1824.4,337.1 1823.9,335.3 1827.8,334.2 1830.2,332.8 1833.5,335.0 1835.6,336.1 1837.9,337.9 1838.1,335.1 1836.6,331.5 1834.4,329.3 1833.1,326.7 1832.8,323.9 1831.3,320.2 1830.2,316.3 1831.5,312.5 1827.1,313.5 1823.9,313.7 1820.7,312.7 1818.8,311.2 1815.0,312.5" stroke-width="1.2" stroke="#4c5050"/>
<polyline points="1818.8,322.6 1822.9,322.0 1825.2,322.6 1828.5,324.1 1832.8,323.9" stroke-width="1.2" stroke="#4c5050"/>
<polyline points="1813.7,362.0 1816.5,364.4 1817.1,366.0 1820.1,368.3 1821.4,371.3 1823.9,374.7 1824.3,377.8 1822.6,382.3 1819.1,380.9 1816.3,381.0 1813.3,379.7 1811.2,378.5 1807.9,379.5 1804.9,379.8 1802.4,380.8 1801.0,382.9 1797.2,384.6 1794.7,384.8 1791.2,385.1 1788.7,388.4 1785.9,388.3 1782.0,389.9 1778.4,391.9 1777.1,392.7 1774.4,393.7 1777.1,394.9 1779.3,396.7 1781.3,399.7 1783.3,401.3 1786.9,403.8 1789.6,405.2 1793.7,405.5 1795.8,404.1 1800.0,405.6 1802.3,405.2 1803.5,408.0 1807.5,408.3 1809.0,410.6 1811.2,412.8 1814.8,415.3 1815.5,417.5 1818.8,419.1 1821.4,421.0 1823.5,421.8 1826.9,423.2 1830.8,424.5 1832.8,425.5 1832.1,430.0 1830.2,433.1 1828.3,434.6 1824.7,434.9 1822.2,436.0 1820.1,438.2 1820.1,440.8 1818.8,445.0" stroke-width="1.2" stroke="#4c5050"/>
<polyline points="1829.0,348.0 1832.5,350.1 1834.8,350.1 1837.9,351.8 1839.5,353.7 1843.0,355.5 1845.5,358.2 1846.2,360.4 1847.6,363.4 1848.7,365.1 1850.6,368.3" stroke-width="1.2" stroke="#4c5050"/>
<polyline points="1831.5,362.0 1832.6,365.0 1834.8,367.5 1834.3,369.3 1836.6,372.1 1837.5,374.8 1840.2,377.2 1841.7,381.0 1843.3,384.2 1844.3,387.0 1847.0,389.6 1848.0,391.2 1849.5,394.5 1850.6,396.3 1851.8,392.5 1849.3,389.5 1848.4,388.1 1846.6,384.1 1845.5,382.3 1842.3,380.2 1840.8,375.9 1839.1,373.4 1837.2,370.6 1836.9,368.6 1835.0,365.8 1832.8,362.0 1831.5,362.0" stroke-width="1.2" stroke="#4c5050"/>
<polyline points="1832.8,349.3 1835.1,348.4 1839.1,346.7 1842.4,346.6 1844.7,348.0 1848.0,349.3 1850.0,351.7 1853.1,355.6 1855.8,356.2 1857.4,358.4 1860.8,360.1 1863.3,362.0 1864.9,365.9 1865.7,368.3 1865.8,372.1 1867.3,373.8 1870.9,376.0" stroke-width="1.2" stroke="#4c5050"/>
<polyline points="1655.0,340.4 1656.1,342.4 1658.8,345.5 1661.0,345.0 1664.6,344.6 1667.7,344.2 1668.2,346.6 1671.1,350.5 1671.5,354.4 1669.8,358.0 1668.9,360.6 1669.0,363.3 1671.4,367.1 1674.1,370.2 1675.3,372.1 1680.4,373.4 1681.7,378.5 1678.9,381.0 1676.6,383.6 1674.5,385.4 1673.1,388.0 1671.5,391.2 1669.7,395.1 1669.0,397.5 1669.2,401.2 1668.6,402.7 1669.6,406.7 1670.5,410.1 1670.4,413.5 1672.2,416.3 1671.5,419.1 1670.7,420.7 1668.7,424.1 1666.7,425.9 1666.4,429.3 1664.5,432.9 1662.3,435.0 1661.3,438.2 1661.5,442.1 1662.6,445.0" stroke-width="1.2" stroke="#4c5050"/>
<polyline points="1661.9,278.2 1663.4,278.4" stroke-width="1.6" stroke="#4c5050"/>
<polyline points="1802.2,282.0 1803.7,282.2" stroke-width="1.6" stroke="#4c5050"/>
<polyline points="1655.5,304.8 1657.0,305.1" stroke-width="1.6" stroke="#4c5050"/>
<polyline points="1662.5,304.8 1664.0,305.1" stroke-width="1.6" stroke="#4c5050"/>
<polyline points="1669.5,304.8 1671.0,305.1" stroke-width="1.6" stroke="#4c5050"/>
<polyline points="1658.0,325.8 1659.6,326.0" stroke-width="1.6" stroke="#4c5050"/>
<polyline points="1655.5,317.5 1657.0,317.8" stroke-width="1.6" stroke="#4c5050"/>
<polyline points="1821.9,388.7 1823.4,388.9" stroke-width="1.6" stroke="#4c5050"/>
<polyline points="1414.5,497.2 1416.7,498.1 1420.6,499.5 1423.4,500.1 1427.5,500.9 1429.9,503.0 1432.6,503.4 1435.4,505.5 1438.1,506.1 1441.0,507.6 1443.2,509.6 1445.2,511.1 1446.9,514.5 1448.8,514.7 1450.7,516.9 1453.1,519.6 1453.6,517.0 1454.8,512.9 1456.7,508.7 1456.7,506.8 1458.1,503.0 1462.4,504.3 1464.7,506.3 1467.5,505.4 1470.8,505.0 1472.7,505.6 1476.3,504.7 1479.4,505.4 1481.3,505.0 1484.6,506.3 1488.3,508.5 1489.4,509.6 1493.2,510.5 1496.1,510.0 1497.9,512.1 1500.1,512.3 1504.1,510.6 1506.8,509.9 1509.5,509.6 1512.7,509.2 1516.0,510.0 1520.2,507.6 1522.1,507.5 1526.0,508.0 1528.3,507.5 1531.0,507.3 1534.2,506.1 1536.2,505.7 1539.9,503.4 1542.6,503.0 1544.7,501.1 1548.4,499.4 1550.1,499.3 1552.8,497.7 1555.9,496.4 1558.0,494.8 1561.6,492.8 1562.9,489.5 1566.6,489.3 1569.2,486.4 1570.7,485.0 1573.6,482.5 1576.3,479.0 1577.6,478.0 1580.8,474.8 1582.3,472.9 1584.8,471.2 1588.2,468.2 1589.0,467.6 1591.9,464.7 1594.0,463.2 1596.8,461.4 1599.9,459.0 1603.3,458.2 1605.6,456.6 1608.4,455.2 1610.5,456.0 1614.2,454.9 1616.4,454.1 1619.0,452.0 1623.3,453.2 1625.5,451.6 1627.6,450.3 1630.7,450.8 1634.1,450.7 1636.6,449.9 1639.3,448.0 1642.1,448.3 1647.1,445.8 1650.0,445.6 1653.2,446.7 1656.1,446.4 1660.0,446.6" stroke-width="1.2" stroke="#4c5050"/>
<polyline points="1414.5,550.2 1417.0,550.6 1421.5,552.6 1423.1,553.1 1426.6,554.4 1428.3,555.2 1431.0,555.4 1433.8,557.7 1438.2,559.2 1439.8,559.4 1442.6,560.4 1445.6,559.5 1449.8,561.0 1453.7,562.2 1455.4,560.7 1458.1,561.9 1462.5,562.7 1465.5,561.1 1468.0,561.7 1469.6,562.0 1473.4,561.6 1476.3,562.7 1478.9,561.6 1480.6,561.1 1485.2,559.3 1487.6,557.7 1489.6,557.7 1493.5,558.7 1496.9,557.8 1500.3,558.2 1503.0,558.2 1506.2,558.5 1508.9,560.7 1511.6,561.6 1513.9,563.1 1516.1,564.1 1519.4,564.3 1522.4,565.9 1525.3,566.1 1528.1,566.9 1531.1,568.4 1533.1,569.5 1536.0,571.0 1538.5,570.3 1542.6,569.0 1545.6,567.0 1548.0,566.9 1550.9,566.0 1553.4,564.5 1557.1,562.0 1559.6,561.0 1562.2,558.9 1564.1,557.4 1567.5,556.0 1570.8,554.5 1572.8,553.2 1574.3,551.0 1577.5,549.0 1580.8,547.6 1582.4,546.1 1586.0,543.9 1589.9,543.9 1592.4,542.0 1595.9,541.8 1597.2,541.0 1600.5,538.4 1604.9,539.1 1607.7,538.6 1610.6,536.0 1613.1,535.3 1616.8,534.8 1618.9,534.5 1621.1,534.4 1624.6,532.4 1628.6,530.8 1630.6,530.9 1633.8,529.5 1636.7,529.1 1639.2,527.5 1642.5,526.4 1645.4,525.4 1647.1,526.1 1651.7,526.7 1653.7,527.9 1655.0,530.6 1657.9,534.2 1660.0,536.2" stroke-width="1.2" stroke="#4c5050"/>
<polyline points="1414.5,654.7 1418.5,656.1 1421.4,657.4 1422.6,657.8 1426.6,658.8 1430.3,660.0 1431.7,661.1 1434.5,663.4 1438.2,665.5 1440.9,662.4 1444.8,660.5 1443.7,664.1 1443.2,667.1 1446.3,669.0 1448.8,671.5 1451.0,673.9 1453.1,675.4 1455.5,678.0 1455.6,680.4 1457.3,683.7 1459.7,685.4 1460.9,687.7 1462.1,691.0 1463.7,693.0 1464.1,695.2 1464.7,698.6 1464.4,701.6 1466.4,705.6 1465.5,708.6 1466.4,711.9" stroke-width="1.2" stroke="#4c5050"/>
<polyline points="1471.3,711.9 1470.9,709.9 1471.6,706.6 1473.3,706.2 1471.0,703.4 1473.7,699.8 1474.5,698.1 1473.0,695.3 1472.3,691.4 1476.6,690.5 1475.6,689.2 1478.0,685.1 1479.0,682.3 1478.9,681.0 1479.6,678.7 1481.0,678.6 1481.5,676.0 1485.7,674.4 1485.0,672.9 1484.9,669.1 1487.9,667.1 1490.3,666.8 1493.8,663.9 1495.2,663.6 1495.4,661.4 1497.9,660.5 1500.4,662.1 1502.5,662.1 1503.9,661.2 1508.9,660.9 1509.5,662.1 1509.8,664.5 1515.2,667.0 1513.8,668.0 1517.8,669.9 1519.4,670.4 1521.4,666.8 1521.6,665.5 1523.3,666.0 1525.1,662.0 1526.0,660.5 1526.2,659.0 1529.7,657.0 1528.2,653.2 1531.0,650.5 1533.5,650.2 1537.1,651.3 1537.5,655.4 1539.8,654.8 1542.6,657.2 1545.8,655.7 1547.0,653.8 1548.9,655.2 1552.6,653.9 1554.9,654.5 1555.9,653.3 1560.8,652.9 1563.0,651.6 1561.7,651.1 1565.8,648.9 1568.9,649.5 1571.0,646.2 1572.4,645.4 1574.6,644.7 1576.7,642.9 1579.1,643.9 1582.8,645.7 1583.0,646.3 1588.4,645.4 1589.0,646.1 1590.2,646.5 1594.0,645.6 1594.2,649.4 1598.2,649.5 1598.5,651.3 1599.0,655.5 1601.3,658.5 1601.5,658.8 1606.6,658.9 1607.1,660.8 1608.9,662.1 1613.0,663.6 1614.5,662.3 1617.0,662.3 1618.6,666.1 1622.5,665.2 1623.9,665.5 1625.4,668.9 1629.0,670.6 1628.3,668.7 1630.7,672.2 1633.8,673.8 1634.6,674.8 1635.7,677.4 1638.0,678.9 1638.5,682.9 1642.1,683.7 1644.0,682.8 1644.4,681.5 1649.7,678.2 1650.4,678.7 1653.8,676.7 1655.0,679.5 1658.0,678.0 1660.0,677.1" stroke-width="3.6" stroke="#747777"/>
<polyline points="1471.8,713.4 1469.9,709.2 1472.2,709.3 1471.4,706.0 1470.8,705.2 1475.0,701.3 1474.2,697.6 1473.5,696.8 1474.1,694.2 1475.7,692.5 1477.8,690.2 1476.9,687.5 1475.8,684.9 1478.6,684.2 1480.3,684.7 1480.1,680.2 1480.3,676.5 1482.6,676.4 1485.7,674.5 1487.8,670.2 1486.9,672.4 1488.4,668.6 1488.0,666.8 1494.1,664.4 1492.8,664.9 1494.1,665.3 1498.4,662.0 1500.9,663.7 1500.7,660.5 1506.8,662.8 1509.9,665.2 1510.0,663.6 1511.5,666.4 1514.9,667.8 1514.4,670.4 1519.3,668.9 1519.9,671.9 1519.3,670.8 1524.1,667.1 1523.8,666.9 1527.1,663.4 1526.5,662.0 1529.7,661.2 1528.1,660.0 1531.2,654.2 1529.4,652.8 1531.5,652.0 1534.1,653.8 1533.2,654.7 1539.0,653.8 1541.0,657.9 1542.0,659.7 1543.1,658.7 1545.4,657.4 1547.0,655.4 1551.1,655.5 1553.1,655.4 1555.0,653.5 1556.8,652.9 1558.2,652.5 1561.1,652.7 1565.2,651.9 1566.3,650.4 1567.8,649.4 1571.8,648.6 1573.1,650.2 1573.1,645.6 1576.2,646.5 1579.6,645.4 1580.7,647.7 1584.9,645.7 1585.0,643.9 1588.0,648.7 1591.4,648.6 1594.5,647.1 1595.4,649.6 1597.5,653.1 1597.1,654.1 1599.0,654.2 1599.5,657.0 1599.2,658.5 1602.2,660.3 1605.8,659.0 1609.2,660.9 1609.4,663.6 1609.6,663.4 1613.5,665.2 1619.2,663.6 1618.4,668.1 1623.3,665.4 1624.4,667.0 1625.4,669.8 1627.2,669.3 1629.1,673.5 1633.1,673.3 1634.3,675.2 1634.3,676.3 1638.7,676.9 1639.7,681.2 1639.5,683.5 1642.6,685.2 1645.4,686.2 1648.3,683.7 1649.5,681.1 1650.9,680.2 1653.0,680.5 1654.6,679.5 1657.5,680.0 1660.5,678.6" stroke-width="1.8" stroke="#5c5f5f"/>
<polyline points="1472.7,715.5 1474.3,713.2 1472.1,708.9 1473.4,706.5 1473.7,704.4 1474.4,702.9 1474.3,699.0 1474.7,697.4 1476.3,694.0 1476.9,692.9 1477.7,688.5 1479.7,686.9 1479.0,685.8 1481.0,682.4 1481.1,680.0 1485.3,678.2 1485.4,676.7 1488.0,672.2 1489.2,670.8 1492.4,669.9 1493.6,667.2 1497.6,665.3 1499.2,664.1 1501.8,666.0 1504.1,664.5 1508.5,664.5 1510.8,665.8 1512.4,668.6 1513.5,668.9 1516.8,670.1 1518.1,672.1 1520.7,674.1 1522.9,671.4 1523.5,667.7 1525.7,666.6 1527.4,664.1 1529.2,660.4 1528.4,660.7 1531.0,655.9 1532.3,654.2 1534.4,656.9 1536.4,658.3 1540.6,659.3 1542.5,658.4 1544.0,660.8 1547.3,659.0 1548.3,659.4 1550.7,659.6 1553.9,657.5 1557.3,656.0 1559.2,655.0 1562.1,655.8 1563.6,655.0 1567.2,652.5 1570.2,652.2 1573.3,650.4 1576.1,649.9 1578.1,649.3 1580.4,647.6 1583.2,648.1 1585.6,648.5 1588.8,648.6 1590.4,649.1 1591.9,649.2 1595.3,649.2 1596.8,651.8 1597.2,655.4 1599.9,657.5 1600.3,659.2 1604.0,659.5 1604.9,663.8 1607.8,665.5 1610.3,665.8 1614.0,666.4 1614.7,665.9 1616.4,666.3 1620.8,669.1 1622.4,668.5 1625.2,669.1 1627.1,671.2 1627.8,673.1 1630.7,673.7 1632.9,674.4 1635.1,677.4 1636.8,680.3 1638.9,680.1 1640.2,683.1 1640.9,686.5 1643.4,687.3 1645.1,686.2 1650.4,682.6 1651.7,682.4 1656.1,680.4 1657.3,682.7 1661.3,680.7" stroke-width="1.2" stroke="#4c5050"/>
<polyline points="1476.3,711.9 1477.4,708.8 1477.8,706.1 1478.4,703.3 1478.4,700.5 1478.2,697.3 1479.6,695.3 1481.0,691.9 1481.6,690.1 1483.5,688.0 1484.3,684.9 1486.8,682.0 1487.9,678.7 1490.6,677.4 1492.6,675.5 1494.6,673.9 1497.2,672.5 1499.5,670.4 1501.9,670.5 1505.0,671.3 1507.5,672.3 1511.1,673.8 1513.5,675.6 1516.0,679.1 1519.4,680.4 1521.2,678.3 1522.9,676.2 1524.5,675.0 1527.5,673.3 1529.4,670.4 1532.2,670.5 1535.0,669.2 1539.8,670.1 1542.6,668.8 1545.6,667.3 1547.1,665.9 1550.9,664.6 1552.5,663.4 1555.9,662.1 1557.9,661.5 1561.2,661.2 1564.8,660.5 1567.4,658.5 1570.3,657.7 1572.5,657.2 1576.2,659.0 1579.6,658.8 1582.4,659.8 1585.7,660.5 1586.3,662.9 1586.4,667.2 1587.3,668.2 1589.0,672.1 1591.8,671.2 1596.2,672.8 1599.1,672.0 1603.1,672.8 1605.6,672.1 1609.4,673.6 1611.1,672.4 1614.6,672.9 1616.9,673.5 1620.1,674.8 1622.2,675.4 1625.0,677.0 1626.6,680.0 1630.3,682.1 1632.6,684.0 1635.5,685.4 1639.7,686.0 1641.7,686.2 1644.5,685.0 1648.7,685.4 1651.6,684.3 1653.5,683.8 1657.5,683.0 1660.0,682.0" stroke-width="1.2" stroke="#4c5050"/>
<polyline points="1481.3,711.9 1481.6,709.7 1482.3,706.4 1484.4,702.8 1485.7,701.1 1486.2,697.3 1487.1,695.7 1487.9,692.0 1489.7,690.7 1493.0,688.5 1494.6,686.2 1497.2,686.2 1499.5,683.7 1503.0,684.5 1507.1,685.0 1509.4,684.6 1512.8,685.4 1515.9,686.9 1517.1,688.3 1519.6,689.8 1522.6,692.2 1524.4,693.6 1527.1,690.7 1528.7,688.2 1531.4,687.3 1533.4,684.0 1536.0,682.0 1539.5,681.0 1540.8,679.6 1543.7,678.7 1547.7,678.8 1550.5,678.7 1552.6,677.1 1554.7,676.2 1558.3,674.3 1560.9,672.8 1563.1,671.1 1566.7,670.3 1569.2,668.8 1570.8,671.1 1572.3,672.6 1574.9,674.4 1576.4,676.2 1579.1,678.7 1582.7,679.5 1585.0,679.1 1588.3,680.6 1592.2,681.0 1595.7,680.4 1598.8,680.7 1601.5,681.8 1604.5,682.1 1607.2,682.3 1610.5,682.6 1613.9,683.7 1616.2,685.3 1619.1,687.1 1623.6,687.4 1625.2,689.4 1628.8,690.3 1632.6,690.4 1635.6,691.8 1638.6,692.2 1641.7,692.5 1645.4,692.0 1647.5,692.2 1651.9,691.1 1653.8,689.3 1656.8,689.8 1660.0,688.7" stroke-width="1.2" stroke="#4c5050"/>
<polyline points="1489.6,711.9 1490.6,708.7 1493.0,705.6 1494.5,703.6 1496.2,700.3 1499.6,699.4 1501.9,697.9 1505.2,696.9 1507.8,695.3 1509.9,697.6 1512.6,698.9 1514.5,700.9 1516.1,703.6 1519.2,704.9 1522.7,705.1 1526.0,705.3 1528.1,703.7 1529.9,701.3 1532.3,699.9 1535.3,698.3 1537.1,695.9 1539.3,693.6 1542.2,693.4 1545.5,692.7 1548.0,690.9 1550.7,691.1 1552.9,689.5 1555.9,688.7 1558.1,687.8 1561.3,686.3 1564.1,685.7 1567.5,683.7 1569.9,685.7 1572.1,688.0 1574.3,689.6 1577.4,692.0 1581.0,691.3 1584.2,691.1 1587.4,690.6 1590.9,690.3 1594.0,690.3 1597.0,691.8 1600.3,692.6 1603.3,692.1 1605.6,693.2 1609.9,694.2 1612.3,695.3 1615.0,696.2 1617.8,697.4 1622.2,697.8 1624.5,698.1 1627.2,699.9 1630.5,700.3 1634.2,700.6 1635.9,700.3 1639.4,698.7 1642.6,698.5 1645.4,698.6 1648.4,698.7 1651.9,698.6 1654.0,698.1 1657.4,697.6 1660.0,697.0" stroke-width="1.2" stroke="#4c5050"/>
<polyline points="1519.4,711.9 1521.6,711.4 1525.4,710.4 1527.5,709.2 1531.1,707.6 1533.2,707.0 1536.0,705.3 1538.3,704.2 1541.3,702.9 1545.6,701.1 1547.9,699.9 1550.9,698.6 1553.2,697.6 1557.5,698.1 1560.6,697.2 1562.7,696.8 1565.8,697.0 1567.7,699.2 1570.3,701.0 1573.4,701.5 1575.8,703.6 1579.2,702.3 1581.0,702.4 1584.5,701.5 1587.3,701.8 1590.1,700.1 1592.4,700.3 1594.7,701.8 1597.7,701.3 1600.2,702.4 1603.9,704.4 1606.1,704.5 1608.9,705.3 1611.0,705.9 1614.7,707.0 1617.2,707.4 1619.6,708.1 1623.1,707.8 1625.5,708.6 1629.0,707.8 1631.1,706.7 1633.8,706.3 1637.2,705.6 1639.1,705.7 1642.1,705.3 1644.9,704.2 1647.6,704.6 1651.3,705.0 1654.4,704.3 1657.8,704.5 1660.0,703.6" stroke-width="1.2" stroke="#4c5050"/>
<polyline points="1542.6,711.9 1545.8,711.1 1547.7,710.1 1550.6,709.5 1553.4,708.4 1556.0,707.6 1559.2,706.9 1562.2,708.1 1564.8,708.4 1567.2,708.9 1569.8,709.9 1573.4,710.5 1575.8,711.9" stroke-width="1.2" stroke="#4c5050"/>
<polyline points="1479.6,698.6 1481.7,696.2 1484.6,695.3 1484.8,698.7 1483.5,701.3 1482.9,705.3 1478.0,703.6 1479.6,698.6" stroke-width="1.2" stroke="#4c5050"/>
<polyline points="1655.0,530.4 1656.5,532.0 1659.4,534.1 1662.3,535.1 1664.9,536.2 1668.6,537.1 1670.1,537.2 1673.0,538.1 1677.8,537.5 1679.9,537.8 1682.3,538.0 1686.5,538.0 1688.1,539.3 1692.5,540.4 1696.1,539.8 1698.1,540.3 1701.5,541.5 1704.4,539.8 1706.1,540.3 1709.7,541.1 1714.5,540.6 1718.0,542.0 1718.9,546.3 1718.2,549.9 1718.0,552.8 1719.3,555.1 1720.8,560.2 1723.0,562.7 1722.9,567.0 1721.4,569.2 1721.3,572.6 1723.6,574.1 1728.0,577.6 1731.0,578.1 1732.6,580.7 1736.2,580.9 1733.3,584.7 1731.3,587.6 1728.7,588.0 1723.7,590.7 1721.3,590.9 1718.3,592.3 1716.6,594.9 1713.0,597.5 1716.1,600.3 1717.1,602.8 1719.7,605.8 1723.9,607.0 1728.0,606.6 1731.4,605.8 1734.8,604.4 1737.9,601.7 1741.3,603.5 1744.1,602.8 1747.9,604.2 1751.5,602.7 1754.5,599.2 1756.4,596.8 1760.8,594.8 1762.8,592.5 1765.8,595.3 1769.4,596.7 1770.2,600.7 1773.1,603.4 1774.4,605.8 1777.3,607.8 1781.0,610.0 1782.3,607.7 1784.8,605.3 1787.6,604.2 1789.8,601.0 1792.6,597.5 1795.8,596.2 1799.3,594.2 1799.3,590.7 1798.1,587.8 1795.7,584.9 1795.9,582.6 1799.0,580.2 1801.0,578.7 1804.2,576.0 1805.0,573.7 1807.3,571.5 1808.7,569.0 1810.9,566.0 1811.5,561.9 1811.5,558.8 1810.9,556.1 1812.4,553.6 1813.4,549.7 1814.1,545.6 1814.2,542.8 1815.9,538.7 1817.6,537.1 1819.2,532.9 1818.6,529.3 1817.0,527.6 1815.8,524.6 1812.0,523.5 1810.2,520.8 1806.2,519.0 1804.9,518.9 1800.9,517.1 1796.8,517.4 1793.4,518.2 1791.0,519.6 1787.6,517.9 1785.7,515.6 1782.7,513.0 1783.9,509.3 1784.6,507.2 1786.0,503.0 1784.1,501.0 1781.2,499.3 1778.8,499.0 1776.9,497.0 1774.4,494.7 1771.3,492.7 1769.4,489.7" stroke-width="1.2" stroke="#4c5050"/>
<polyline points="1786.0,503.0 1788.4,502.7 1792.3,503.6 1795.7,505.6 1797.2,505.2 1800.9,506.3 1804.2,503.0 1801.2,500.7 1799.9,497.1 1797.6,494.7 1794.7,492.3 1791.0,489.7 1793.1,489.9 1795.9,487.7 1799.3,488.1 1802.0,485.1 1804.5,483.3 1807.5,481.5 1807.8,478.7 1808.9,475.1 1809.2,473.2 1812.3,470.4 1814.2,466.5 1816.8,463.4 1818.3,462.3 1820.8,459.9 1822.5,458.1 1825.5,454.9 1827.8,452.8 1829.1,449.9 1826.6,449.9 1823.9,447.0 1820.8,446.6 1818.6,442.5 1817.5,440.0" stroke-width="1.2" stroke="#4c5050"/>
<polyline points="1745.4,568.5 1747.0,574.3" stroke-width="1.4" stroke="#4c5050"/>
<polyline points="1748.7,579.3 1750.3,585.9" stroke-width="1.4" stroke="#4c5050"/>
<polyline points="1750.8,590.9 1748.7,597.5" stroke-width="1.4" stroke="#4c5050"/>
<polyline points="1655.0,678.8 1656.7,676.5 1660.2,677.1 1661.3,674.9 1664.9,675.5 1668.9,677.3 1669.5,676.4 1671.6,679.1 1673.3,680.2 1676.6,680.4 1676.9,684.2 1679.3,684.6 1679.9,687.7 1681.7,689.5 1681.5,692.0 1683.4,692.0 1685.2,693.4 1689.9,695.8 1691.6,697.4 1693.1,698.7 1695.8,699.9 1697.1,696.5 1701.5,697.6 1703.7,696.7 1706.4,697.0 1710.1,698.1 1710.8,700.8 1714.7,700.9 1715.8,701.0 1718.0,703.6 1721.7,705.2 1724.6,706.6 1726.3,707.0 1726.4,708.1 1729.6,711.9" stroke-width="2.6" stroke="#6f7272"/>
<polyline points="1655.0,683.7 1658.8,683.3 1661.6,684.3 1663.0,683.9 1666.6,685.4 1670.0,687.6 1672.0,689.3 1672.8,691.8 1675.0,694.0 1678.2,695.3 1679.6,696.8 1682.9,700.0 1683.6,700.3 1685.2,704.0 1688.2,705.3 1691.7,706.4 1694.7,705.0 1698.9,705.2 1702.6,704.4 1704.7,705.3 1708.0,706.4 1710.8,709.6 1711.1,709.2 1714.7,711.9" stroke-width="1.2" stroke="#4c5050"/>
<polyline points="1655.0,687.1 1658.3,688.8 1660.2,690.2 1663.0,692.1 1666.3,693.8 1668.3,695.3 1671.3,696.8 1672.8,699.7 1675.2,701.3 1677.4,703.6 1679.9,705.3 1681.7,708.2 1684.8,711.9" stroke-width="1.2" stroke="#4c5050"/>
<polyline points="1655.0,698.7 1656.7,701.4 1659.5,703.1 1662.2,704.9 1664.9,707.0 1667.7,709.2 1671.6,711.9" stroke-width="1.2" stroke="#4c5050"/>
<polyline points="1893.8,461.6 1896.0,459.0 1898.7,458.2 1901.5,458.7 1904.2,459.9" stroke-width="2.4" stroke="#6f7272"/>
<polyline points="1893.8,463.2 1896.8,466.6 1898.2,469.0 1898.7,471.5 1901.5,471.0 1904.2,473.2" stroke-width="2.0" stroke="#6f7272"/>
<polyline points="1655.0,443.3 1658.0,444.1 1661.6,446.6 1661.4,443.0 1663.3,440.0" stroke-width="1.2" stroke="#4c5050"/>
<polyline points="1819.0,517.9 1821.0,518.3" stroke-width="1.6" stroke="#4c5050"/>
<polyline points="1799.9,572.6 1801.9,573.0" stroke-width="1.6" stroke="#4c5050"/>
<polyline points="1743.5,594.2 1745.5,594.5" stroke-width="1.6" stroke="#4c5050"/>
<polyline points="1660.6,539.5 1662.6,539.8" stroke-width="1.6" stroke="#4c5050"/>
</g>
<circle cx="1538.3" cy="331.5" r="15.6" fill="#8c0b0c"/>
<circle cx="1613.3" cy="331.5" r="15.6" fill="#8c0b0c"/>
<circle cx="1686.4" cy="331.5" r="15.6" fill="#9f9f9f"/>
<circle cx="1462.5" cy="404.5" r="15.6" fill="#8c0b0c"/>
<circle cx="1537.1" cy="404.5" r="15.6" fill="#8c0b0c"/>
<circle cx="1611.8" cy="404.5" r="15.6" fill="#8c0b0c"/>
<circle cx="1684.8" cy="404.5" r="15.6" fill="#9f9f9f"/>
<circle cx="1759.5" cy="404.5" r="15.6" fill="#9f9f9f"/>
<circle cx="1462.5" cy="477.6" r="15.6" fill="#8c0b0c"/>
<circle cx="1611.0" cy="477.6" r="15.6" fill="#8c0b0c"/>
<circle cx="1682.9" cy="477.6" r="15.6" fill="#0b0b86"/>
<circle cx="1756.0" cy="477.6" r="15.6" fill="#0b0b86"/>
<circle cx="1831.0" cy="477.6" r="15.6" fill="#0b0b86"/>
<circle cx="1462.5" cy="550.3" r="15.6" fill="#8c0b0c"/>
<circle cx="1535.2" cy="550.3" r="15.6" fill="#9f9f9f"/>
<circle cx="1608.3" cy="550.3" r="15.6" fill="#9f9f9f"/>
<circle cx="1681.7" cy="550.3" r="15.6" fill="#0b0b86"/>
<circle cx="1754.0" cy="550.3" r="15.6" fill="#0b0b86"/>
<circle cx="1827.5" cy="550.3" r="15.6" fill="#0b0b86"/>
<circle cx="1460.1" cy="623.0" r="15.6" fill="#9f9f9f"/>
<circle cx="1533.6" cy="623.0" r="15.6" fill="#9f9f9f"/>
<circle cx="1606.7" cy="623.0" r="15.6" fill="#9f9f9f"/>
<circle cx="1679.8" cy="623.0" r="15.6" fill="#0b0b86"/>
<circle cx="1752.8" cy="623.0" r="15.6" fill="#0b0b86"/>
<rect x="1414.4" y="239.2" width="489.7" height="473.3" fill="none" stroke="#111" stroke-width="1.4"/>
<g stroke="#111" stroke-width="1.2">
<line x1="1414.4" y1="374.4" x2="1419.4" y2="374.4"/>
<line x1="1904.1" y1="374.4" x2="1899.1" y2="374.4"/>
<line x1="1414.4" y1="509.7" x2="1419.4" y2="509.7"/>
<line x1="1904.1" y1="509.7" x2="1899.1" y2="509.7"/>
<line x1="1414.4" y1="644.9" x2="1419.4" y2="644.9"/>
<line x1="1904.1" y1="644.9" x2="1899.1" y2="644.9"/>
<line x1="1536.8" y1="712.5" x2="1536.8" y2="707.5"/>
<line x1="1536.8" y1="239.2" x2="1536.8" y2="244.2"/>
<line x1="1659.3" y1="712.5" x2="1659.3" y2="707.5"/>
<line x1="1659.3" y1="239.2" x2="1659.3" y2="244.2"/>
<line x1="1781.7" y1="712.5" x2="1781.7" y2="707.5"/>
<line x1="1781.7" y1="239.2" x2="1781.7" y2="244.2"/>
</g>
<text x="1300" y="257.7" font-size="44.5">28<tspan dx="1.4" dy="-23.3" font-size="32">°</tspan><tspan dx="2" dy="23.3">N</tspan></text>
<text x="1300" y="392.8" font-size="44.5">27<tspan dx="1.4" dy="-23.3" font-size="32">°</tspan><tspan dx="2" dy="23.3">N</tspan></text>
<text x="1300" y="529.0" font-size="44.5">26<tspan dx="1.4" dy="-23.3" font-size="32">°</tspan><tspan dx="2" dy="23.3">N</tspan></text>
<text x="1300" y="664.8" font-size="44.5">25<tspan dx="1.4" dy="-23.3" font-size="32">°</tspan><tspan dx="2" dy="23.3">N</tspan></text>
<text transform="translate(1373.4,837.2) rotate(-45)" font-size="44.5">89<tspan dx="1.4" dy="-23.3" font-size="32">°</tspan><tspan dx="0.5" dy="23.3">W</tspan></text>
<text transform="translate(1495.4,837.2) rotate(-45)" font-size="44.5">88<tspan dx="1.4" dy="-23.3" font-size="32">°</tspan><tspan dx="0.5" dy="23.3">W</tspan></text>
<text transform="translate(1617.4,837.2) rotate(-45)" font-size="44.5">87<tspan dx="1.4" dy="-23.3" font-size="32">°</tspan><tspan dx="0.5" dy="23.3">W</tspan></text>
<text transform="translate(1739.4,837.2) rotate(-45)" font-size="44.5">86<tspan dx="1.4" dy="-23.3" font-size="32">°</tspan><tspan dx="0.5" dy="23.3">W</tspan></text>
<text transform="translate(1861.4,837.2) rotate(-45)" font-size="44.5">85<tspan dx="1.4" dy="-23.3" font-size="32">°</tspan><tspan dx="0.5" dy="23.3">W</tspan></text>
</g>
</svg></body></html>
